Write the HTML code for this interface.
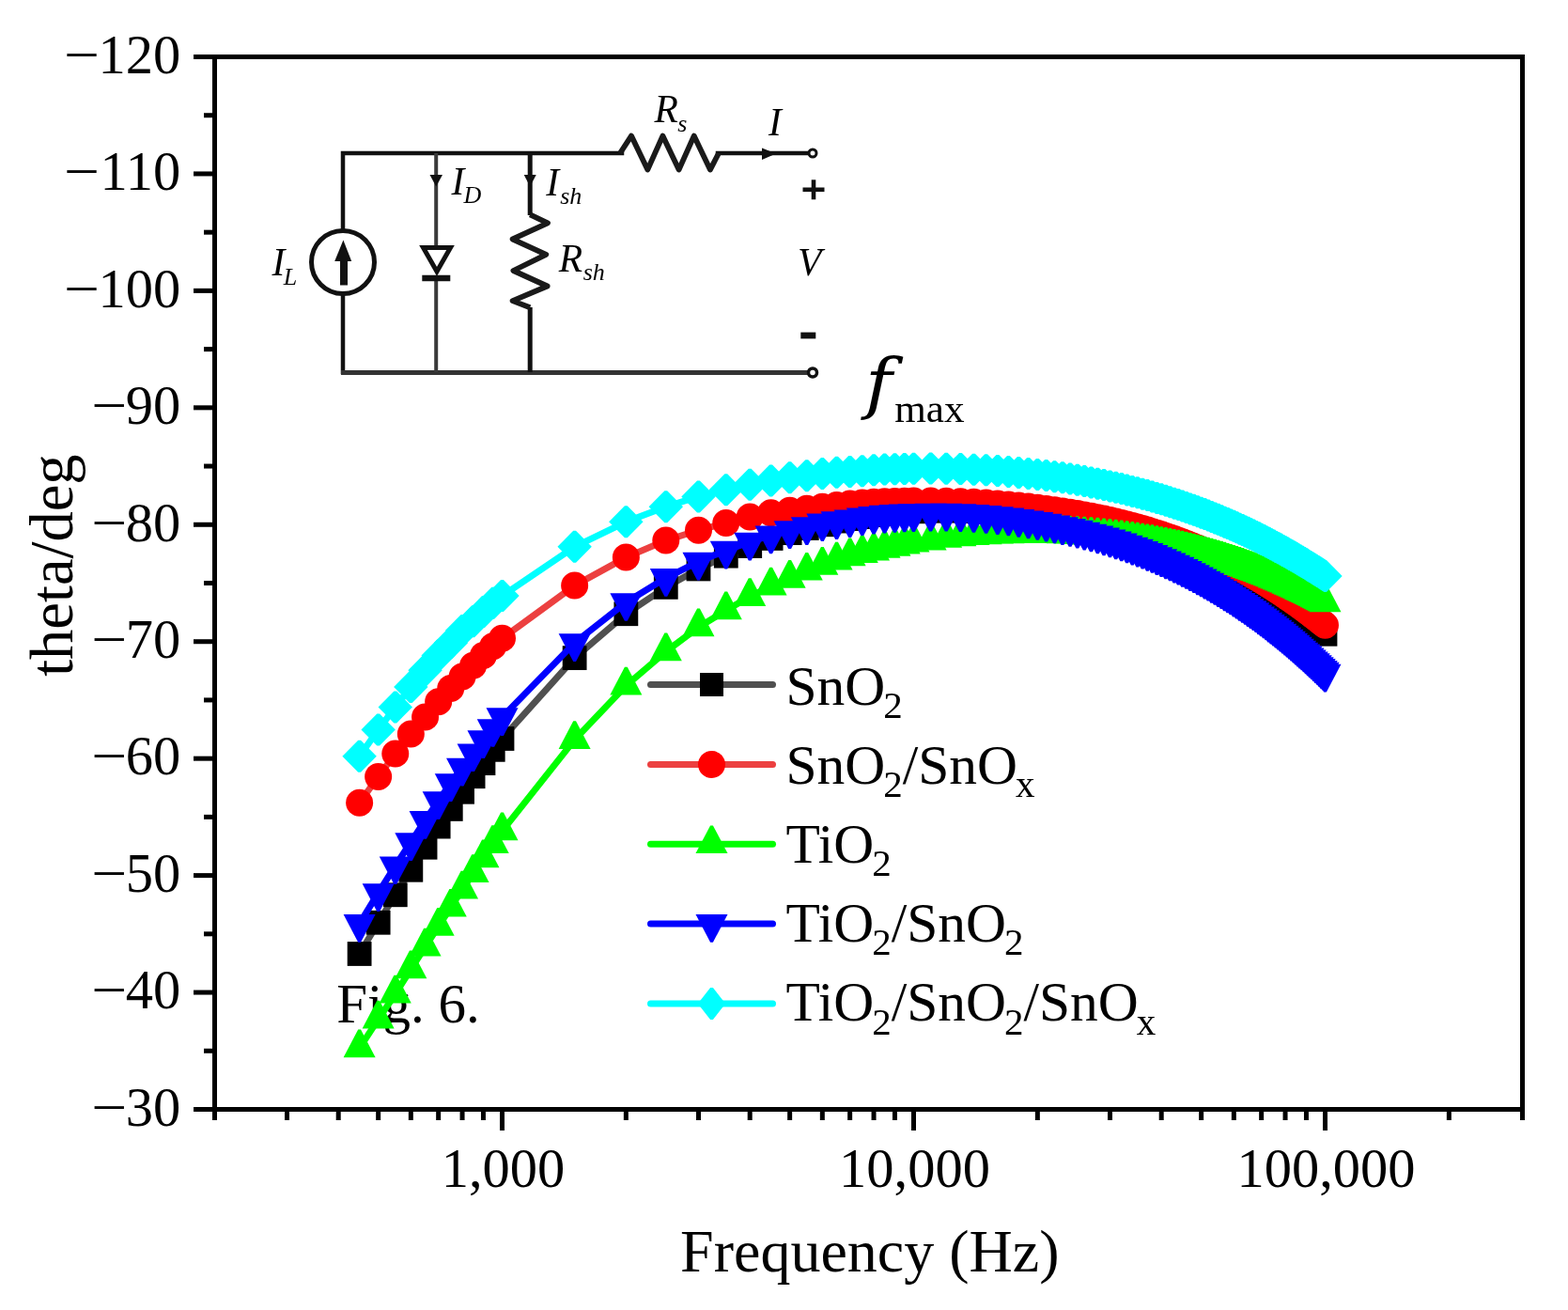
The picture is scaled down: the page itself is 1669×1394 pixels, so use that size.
<!DOCTYPE html><html><head><meta charset="utf-8"><title>theta vs frequency</title><style>html,body{margin:0;padding:0;background:#fff;overflow:hidden;}svg{display:block;}text{font-family:'Liberation Serif','Times New Roman',serif;fill:#000;}</style></head><body>
<svg width="1669" height="1394" viewBox="0 0 1669 1394">
<rect x="0" y="0" width="1669" height="1394" fill="#fff"/>
<g id="circuit"><g stroke="#111" stroke-width="4.5" fill="none" stroke-linecap="square"><polyline points="365,244 365,163 662,163"/><line x1="365" y1="314" x2="365" y2="396"/><line x1="764" y1="163" x2="860" y2="163"/></g><line x1="363" y1="396.5" x2="860" y2="396.5" stroke="#333" stroke-width="5"/><polyline points="660,163 672,144.6 689.3,180.6 705.4,144.6 722.6,180.6 738.7,144.6 755.9,180.6 765,163" stroke="#1a1a1a" stroke-width="5.8" fill="none" stroke-linejoin="round"/><circle cx="365" cy="279" r="33.5" stroke="#111" stroke-width="5" fill="none"/><line x1="366" y1="303.5" x2="366" y2="272" stroke="#111" stroke-width="8"/><polygon points="356.2,278 374.2,278 365.4,255.5" fill="#111"/><line x1="464.2" y1="163" x2="464.2" y2="262" stroke="#3a3a3a" stroke-width="4"/><line x1="464.2" y1="296" x2="464.2" y2="396" stroke="#3a3a3a" stroke-width="4"/><polygon points="450.5,263.5 479.5,263.5 465,289" stroke="#111" stroke-width="5" fill="none" stroke-linejoin="miter"/><line x1="449.3" y1="296" x2="479.3" y2="296" stroke="#111" stroke-width="6.5"/><polygon points="457.5,186 471,186 464.2,198.5" fill="#111"/><line x1="564.2" y1="163" x2="564.2" y2="229" stroke="#111" stroke-width="5"/><line x1="564.2" y1="327" x2="564.2" y2="396" stroke="#111" stroke-width="5"/><polyline points="564.2,228.4 583.0,237.3 545.6,254.5 581.3,270.9 546.4,288 582.6,304.5 545.6,320.1 564.2,327.2" stroke="#1a1a1a" stroke-width="5.8" fill="none" stroke-linejoin="round"/><polygon points="557.7,186 570.7,186 564.2,198.5" fill="#111"/><polygon points="811,157.4 826,163.5 811,170" fill="#111"/><circle cx="865" cy="163" r="4" stroke="#111" stroke-width="3" fill="#fff"/><circle cx="865" cy="396.5" r="4.5" stroke="#111" stroke-width="3.5" fill="#fff"/><rect x="854.5" y="199.5" width="23" height="4.6" fill="#111"/><rect x="863.7" y="191.3" width="4.6" height="21" fill="#111"/><rect x="852.3" y="353.6" width="16" height="6.8" fill="#111"/><text x="289.5" y="292.6" font-size="41.5" style="font-style:italic">I</text><text x="301.8" y="302.9" font-size="26" style="font-style:italic">L</text><text x="480.5" y="206.9" font-size="41.5" style="font-style:italic">I</text><text x="493.6" y="216.2" font-size="26" style="font-style:italic">D</text><text x="581.2" y="207.8" font-size="41.5" style="font-style:italic">I</text><text x="596.2" y="217.2" font-size="26" style="font-style:italic">sh</text><text x="594.8" y="289" font-size="41.5" style="font-style:italic">R</text><text x="620.7" y="298.3" font-size="26" style="font-style:italic">sh</text><text x="696.4" y="129.8" font-size="41.5" style="font-style:italic">R</text><text x="721.2" y="140" font-size="26" style="font-style:italic">s</text><text x="818" y="143.6" font-size="41.5" style="font-style:italic">I</text><text x="849" y="292.7" font-size="41.5" style="font-style:italic">V</text></g>
<text x="920.5" y="431.6" font-size="70.8" style="font-family:'DejaVu Serif',serif;font-style:italic" transform="translate(916.1 0) scale(1.1 1) translate(-916.1 0)">f</text>
<text x="952.2" y="449" font-size="43.2">max</text>
<text x="358.2" y="1087.7" font-size="59">Fig. 6.</text>
<line x1="692.5" y1="728.5" x2="822.5" y2="728.5" stroke="#505050" stroke-width="7" stroke-linecap="round"/>
<rect x="745.00" y="716.00" width="25.0" height="25.0" fill="#000000"/>
<line x1="692.5" y1="813.5" x2="822.5" y2="813.5" stroke="#ec4040" stroke-width="7" stroke-linecap="round"/>
<circle cx="757.50" cy="813.50" r="14.5" fill="#ff0000"/>
<line x1="692.5" y1="898.2" x2="822.5" y2="898.2" stroke="#00ff00" stroke-width="7" stroke-linecap="round"/>
<polygon points="756.10,878.40 758.90,878.40 774.50,908.10 740.50,908.10" fill="#00ff00"/>
<line x1="692.5" y1="983" x2="822.5" y2="983" stroke="#0000ff" stroke-width="7" stroke-linecap="round"/>
<polygon points="756.10,1002.80 758.90,1002.80 774.50,973.10 740.50,973.10" fill="#0000ff"/>
<line x1="692.5" y1="1068" x2="822.5" y2="1068" stroke="#00ffff" stroke-width="7" stroke-linecap="round"/>
<polygon points="756.10,1051.00 758.90,1051.00 772.20,1068.00 758.90,1085.00 756.10,1085.00 742.80,1068.00" fill="#00ffff"/>
<text x="836.4" y="749.5" font-size="59.5"><tspan y="749.5">SnO</tspan><tspan dx="-2" y="763.80" font-size="41">2</tspan></text>
<text x="836.4" y="833.7" font-size="59.5"><tspan y="833.7">SnO</tspan><tspan dx="-2" y="848.00" font-size="41">2</tspan><tspan y="833.7">/SnO</tspan><tspan dx="-2" y="848.00" font-size="41">x</tspan></text>
<text x="836.4" y="917.9" font-size="59.5"><tspan y="917.9">TiO</tspan><tspan dx="-2" y="932.20" font-size="41">2</tspan></text>
<text x="836.4" y="1002.1" font-size="59.5"><tspan y="1002.1">TiO</tspan><tspan dx="-2" y="1016.40" font-size="41">2</tspan><tspan y="1002.1">/SnO</tspan><tspan dx="-2" y="1016.40" font-size="41">2</tspan></text>
<text x="836.4" y="1086.3" font-size="59.5"><tspan y="1086.3">TiO</tspan><tspan dx="-2" y="1100.60" font-size="41">2</tspan><tspan y="1086.3">/SnO</tspan><tspan dx="-2" y="1100.60" font-size="41">2</tspan><tspan y="1086.3">/SnO</tspan><tspan dx="-2" y="1100.60" font-size="41">x</tspan></text>
<polyline points="382.61,1014.99 402.65,981.76 420.78,952.27 437.33,925.76 452.56,901.74 466.65,879.59 479.78,860.93 492.05,842.76 503.59,826.21 514.46,812.14 524.74,797.83 534.50,786.01 611.63,700.14 666.35,653.23 708.80,624.86 743.48,605.44 772.80,591.63 798.20,581.05 820.61,572.96 840.65,567.11 858.78,562.01 875.33,558.28 890.56,554.54 904.65,552.06 917.78,550.06 930.05,548.07 941.59,546.81 952.46,545.83 962.74,545.01 972.50,544.34 990.63,543.65 1007.18,543.34 1022.41,543.54 1036.50,544.02 1049.63,544.70 1061.90,545.55 1073.44,546.53 1084.31,547.61 1094.59,548.76 1104.35,549.98 1113.63,551.25 1122.48,552.58 1130.94,553.94 1139.03,555.34 1146.80,556.78 1154.26,558.24 1161.44,559.73 1168.36,561.24 1175.03,562.77 1181.48,564.31 1187.72,565.88 1193.76,567.45 1199.61,569.04 1205.29,570.64 1210.80,572.25 1216.16,573.86 1221.37,575.48 1226.45,577.11 1231.39,578.74 1236.20,580.37 1240.90,582.01 1245.48,583.65 1249.96,585.30 1254.33,586.94 1258.61,588.58 1262.79,590.23 1266.88,591.87 1270.88,593.52 1274.81,595.16 1278.65,596.81 1282.42,598.45 1286.11,600.09 1289.73,601.73 1293.29,603.36 1296.78,605.00 1300.21,606.63 1303.57,608.25 1306.88,609.88 1310.13,611.50 1313.33,613.12 1316.47,614.74 1319.57,616.35 1322.61,617.96 1325.61,619.57 1328.56,621.17 1331.46,622.77 1334.32,624.37 1337.14,625.96 1339.92,627.55 1342.65,629.13 1345.35,630.71 1348.01,632.29 1350.64,633.86 1353.22,635.43 1355.78,636.99 1358.30,638.55 1360.78,640.11 1363.24,641.66 1365.66,643.21 1368.05,644.75 1370.42,646.29 1372.75,647.82 1375.06,649.36 1377.33,650.88 1379.59,652.41 1381.81,653.93 1384.01,655.44 1386.18,656.95 1388.33,658.46 1390.46,659.96 1392.56,661.46 1394.64,662.95 1396.70,664.44 1398.73,665.93 1400.74,667.41 1402.73,668.89 1404.71,670.36 1406.66,671.83 1408.59,673.30 1410.50,674.76" fill="none" stroke="#505050" stroke-width="7" stroke-linejoin="round" stroke-linecap="round"/>
<g><rect x="369.71" y="1002.09" width="25.8" height="25.8" fill="#000000"/><rect x="389.75" y="968.86" width="25.8" height="25.8" fill="#000000"/><rect x="407.88" y="939.37" width="25.8" height="25.8" fill="#000000"/><rect x="424.43" y="912.86" width="25.8" height="25.8" fill="#000000"/><rect x="439.66" y="888.84" width="25.8" height="25.8" fill="#000000"/><rect x="453.75" y="866.69" width="25.8" height="25.8" fill="#000000"/><rect x="466.88" y="848.03" width="25.8" height="25.8" fill="#000000"/><rect x="479.15" y="829.86" width="25.8" height="25.8" fill="#000000"/><rect x="490.69" y="813.31" width="25.8" height="25.8" fill="#000000"/><rect x="501.56" y="799.24" width="25.8" height="25.8" fill="#000000"/><rect x="511.84" y="784.93" width="25.8" height="25.8" fill="#000000"/><rect x="521.60" y="773.11" width="25.8" height="25.8" fill="#000000"/><rect x="598.73" y="687.24" width="25.8" height="25.8" fill="#000000"/><rect x="653.45" y="640.33" width="25.8" height="25.8" fill="#000000"/><rect x="695.90" y="611.96" width="25.8" height="25.8" fill="#000000"/><rect x="730.58" y="592.54" width="25.8" height="25.8" fill="#000000"/><rect x="759.90" y="578.73" width="25.8" height="25.8" fill="#000000"/><rect x="785.30" y="568.15" width="25.8" height="25.8" fill="#000000"/><rect x="807.71" y="560.06" width="25.8" height="25.8" fill="#000000"/><rect x="827.75" y="554.21" width="25.8" height="25.8" fill="#000000"/><rect x="845.88" y="549.11" width="25.8" height="25.8" fill="#000000"/><rect x="862.43" y="545.38" width="25.8" height="25.8" fill="#000000"/><rect x="877.66" y="541.64" width="25.8" height="25.8" fill="#000000"/><rect x="891.75" y="539.16" width="25.8" height="25.8" fill="#000000"/><rect x="904.88" y="537.16" width="25.8" height="25.8" fill="#000000"/><rect x="917.15" y="535.17" width="25.8" height="25.8" fill="#000000"/><rect x="928.69" y="533.91" width="25.8" height="25.8" fill="#000000"/><rect x="939.56" y="532.93" width="25.8" height="25.8" fill="#000000"/><rect x="949.84" y="532.11" width="25.8" height="25.8" fill="#000000"/><rect x="959.60" y="531.44" width="25.8" height="25.8" fill="#000000"/><rect x="977.73" y="530.75" width="25.8" height="25.8" fill="#000000"/><rect x="994.28" y="530.44" width="25.8" height="25.8" fill="#000000"/><rect x="1009.51" y="530.64" width="25.8" height="25.8" fill="#000000"/><rect x="1023.60" y="531.12" width="25.8" height="25.8" fill="#000000"/><rect x="1036.73" y="531.80" width="25.8" height="25.8" fill="#000000"/><rect x="1049.00" y="532.65" width="25.8" height="25.8" fill="#000000"/><rect x="1060.54" y="533.63" width="25.8" height="25.8" fill="#000000"/><rect x="1071.41" y="534.71" width="25.8" height="25.8" fill="#000000"/><rect x="1081.69" y="535.86" width="25.8" height="25.8" fill="#000000"/><rect x="1091.45" y="537.08" width="25.8" height="25.8" fill="#000000"/><rect x="1100.73" y="538.35" width="25.8" height="25.8" fill="#000000"/><rect x="1109.58" y="539.68" width="25.8" height="25.8" fill="#000000"/><rect x="1118.04" y="541.04" width="25.8" height="25.8" fill="#000000"/><rect x="1126.13" y="542.44" width="25.8" height="25.8" fill="#000000"/><rect x="1133.90" y="543.88" width="25.8" height="25.8" fill="#000000"/><rect x="1141.36" y="545.34" width="25.8" height="25.8" fill="#000000"/><rect x="1148.54" y="546.83" width="25.8" height="25.8" fill="#000000"/><rect x="1155.46" y="548.34" width="25.8" height="25.8" fill="#000000"/><rect x="1162.13" y="549.87" width="25.8" height="25.8" fill="#000000"/><rect x="1168.58" y="551.41" width="25.8" height="25.8" fill="#000000"/><rect x="1174.82" y="552.98" width="25.8" height="25.8" fill="#000000"/><rect x="1180.86" y="554.55" width="25.8" height="25.8" fill="#000000"/><rect x="1186.71" y="556.14" width="25.8" height="25.8" fill="#000000"/><rect x="1192.39" y="557.74" width="25.8" height="25.8" fill="#000000"/><rect x="1197.90" y="559.35" width="25.8" height="25.8" fill="#000000"/><rect x="1203.26" y="560.96" width="25.8" height="25.8" fill="#000000"/><rect x="1208.47" y="562.58" width="25.8" height="25.8" fill="#000000"/><rect x="1213.55" y="564.21" width="25.8" height="25.8" fill="#000000"/><rect x="1218.49" y="565.84" width="25.8" height="25.8" fill="#000000"/><rect x="1223.30" y="567.47" width="25.8" height="25.8" fill="#000000"/><rect x="1228.00" y="569.11" width="25.8" height="25.8" fill="#000000"/><rect x="1232.58" y="570.75" width="25.8" height="25.8" fill="#000000"/><rect x="1237.06" y="572.40" width="25.8" height="25.8" fill="#000000"/><rect x="1241.43" y="574.04" width="25.8" height="25.8" fill="#000000"/><rect x="1245.71" y="575.68" width="25.8" height="25.8" fill="#000000"/><rect x="1249.89" y="577.33" width="25.8" height="25.8" fill="#000000"/><rect x="1253.98" y="578.97" width="25.8" height="25.8" fill="#000000"/><rect x="1257.98" y="580.62" width="25.8" height="25.8" fill="#000000"/><rect x="1261.91" y="582.26" width="25.8" height="25.8" fill="#000000"/><rect x="1265.75" y="583.91" width="25.8" height="25.8" fill="#000000"/><rect x="1269.52" y="585.55" width="25.8" height="25.8" fill="#000000"/><rect x="1273.21" y="587.19" width="25.8" height="25.8" fill="#000000"/><rect x="1276.83" y="588.83" width="25.8" height="25.8" fill="#000000"/><rect x="1280.39" y="590.46" width="25.8" height="25.8" fill="#000000"/><rect x="1283.88" y="592.10" width="25.8" height="25.8" fill="#000000"/><rect x="1287.31" y="593.73" width="25.8" height="25.8" fill="#000000"/><rect x="1290.67" y="595.35" width="25.8" height="25.8" fill="#000000"/><rect x="1293.98" y="596.98" width="25.8" height="25.8" fill="#000000"/><rect x="1297.23" y="598.60" width="25.8" height="25.8" fill="#000000"/><rect x="1300.43" y="600.22" width="25.8" height="25.8" fill="#000000"/><rect x="1303.57" y="601.84" width="25.8" height="25.8" fill="#000000"/><rect x="1306.67" y="603.45" width="25.8" height="25.8" fill="#000000"/><rect x="1309.71" y="605.06" width="25.8" height="25.8" fill="#000000"/><rect x="1312.71" y="606.67" width="25.8" height="25.8" fill="#000000"/><rect x="1315.66" y="608.27" width="25.8" height="25.8" fill="#000000"/><rect x="1318.56" y="609.87" width="25.8" height="25.8" fill="#000000"/><rect x="1321.42" y="611.47" width="25.8" height="25.8" fill="#000000"/><rect x="1324.24" y="613.06" width="25.8" height="25.8" fill="#000000"/><rect x="1327.02" y="614.65" width="25.8" height="25.8" fill="#000000"/><rect x="1329.75" y="616.23" width="25.8" height="25.8" fill="#000000"/><rect x="1332.45" y="617.81" width="25.8" height="25.8" fill="#000000"/><rect x="1335.11" y="619.39" width="25.8" height="25.8" fill="#000000"/><rect x="1337.74" y="620.96" width="25.8" height="25.8" fill="#000000"/><rect x="1340.32" y="622.53" width="25.8" height="25.8" fill="#000000"/><rect x="1342.88" y="624.09" width="25.8" height="25.8" fill="#000000"/><rect x="1345.40" y="625.65" width="25.8" height="25.8" fill="#000000"/><rect x="1347.88" y="627.21" width="25.8" height="25.8" fill="#000000"/><rect x="1350.34" y="628.76" width="25.8" height="25.8" fill="#000000"/><rect x="1352.76" y="630.31" width="25.8" height="25.8" fill="#000000"/><rect x="1355.15" y="631.85" width="25.8" height="25.8" fill="#000000"/><rect x="1357.52" y="633.39" width="25.8" height="25.8" fill="#000000"/><rect x="1359.85" y="634.92" width="25.8" height="25.8" fill="#000000"/><rect x="1362.16" y="636.46" width="25.8" height="25.8" fill="#000000"/><rect x="1364.43" y="637.98" width="25.8" height="25.8" fill="#000000"/><rect x="1366.69" y="639.51" width="25.8" height="25.8" fill="#000000"/><rect x="1368.91" y="641.03" width="25.8" height="25.8" fill="#000000"/><rect x="1371.11" y="642.54" width="25.8" height="25.8" fill="#000000"/><rect x="1373.28" y="644.05" width="25.8" height="25.8" fill="#000000"/><rect x="1375.43" y="645.56" width="25.8" height="25.8" fill="#000000"/><rect x="1377.56" y="647.06" width="25.8" height="25.8" fill="#000000"/><rect x="1379.66" y="648.56" width="25.8" height="25.8" fill="#000000"/><rect x="1381.74" y="650.05" width="25.8" height="25.8" fill="#000000"/><rect x="1383.80" y="651.54" width="25.8" height="25.8" fill="#000000"/><rect x="1385.83" y="653.03" width="25.8" height="25.8" fill="#000000"/><rect x="1387.84" y="654.51" width="25.8" height="25.8" fill="#000000"/><rect x="1389.83" y="655.99" width="25.8" height="25.8" fill="#000000"/><rect x="1391.81" y="657.46" width="25.8" height="25.8" fill="#000000"/><rect x="1393.76" y="658.93" width="25.8" height="25.8" fill="#000000"/><rect x="1395.69" y="660.40" width="25.8" height="25.8" fill="#000000"/><rect x="1397.60" y="661.86" width="25.8" height="25.8" fill="#000000"/></g>
<polyline points="382.61,854.33 402.65,826.46 420.78,802.06 437.33,780.91 452.56,762.99 466.65,746.81 479.78,732.62 492.05,719.93 503.59,708.23 514.46,697.41 524.74,687.70 534.50,679.36 611.63,623.11 666.35,593.12 708.80,575.08 743.48,564.25 772.80,556.41 798.20,549.94 820.61,545.83 840.65,543.34 858.78,541.24 875.33,539.36 890.56,537.51 904.65,536.00 917.78,534.97 930.05,534.26 941.59,533.80 952.46,533.42 962.74,533.16 972.50,533.02 990.63,532.98 1007.18,533.21 1022.41,533.66 1036.50,534.29 1049.63,535.07 1061.90,535.95 1073.44,536.93 1084.31,537.97 1094.59,539.08 1104.35,540.23 1113.63,541.43 1122.48,542.66 1130.94,543.92 1139.03,545.22 1146.80,546.54 1154.26,547.90 1161.44,549.28 1168.36,550.68 1175.03,552.10 1181.48,553.55 1187.72,555.01 1193.76,556.49 1199.61,557.99 1205.29,559.50 1210.80,561.03 1216.16,562.57 1221.37,564.11 1226.45,565.67 1231.39,567.24 1236.20,568.82 1240.90,570.40 1245.48,572.00 1249.96,573.59 1254.33,575.20 1258.61,576.81 1262.79,578.42 1266.88,580.04 1270.88,581.66 1274.81,583.29 1278.65,584.91 1282.42,586.54 1286.11,588.18 1289.73,589.81 1293.29,591.44 1296.78,593.08 1300.21,594.72 1303.57,596.36 1306.88,597.99 1310.13,599.63 1313.33,601.27 1316.47,602.91 1319.57,604.55 1322.61,606.18 1325.61,607.82 1328.56,609.45 1331.46,611.09 1334.32,612.72 1337.14,614.35 1339.92,615.98 1342.65,617.61 1345.35,619.24 1348.01,620.86 1350.64,622.48 1353.22,624.10 1355.78,625.72 1358.30,627.34 1360.78,628.95 1363.24,630.56 1365.66,632.17 1368.05,633.78 1370.42,635.38 1372.75,636.98 1375.06,638.58 1377.33,640.18 1379.59,641.77 1381.81,643.37 1384.01,644.95 1386.18,646.54 1388.33,648.12 1390.46,649.70 1392.56,651.28 1394.64,652.85 1396.70,654.42 1398.73,655.99 1400.74,657.56 1402.73,659.12 1404.71,660.68 1406.66,662.23 1408.59,663.79 1410.50,665.34" fill="none" stroke="#ec4040" stroke-width="7" stroke-linejoin="round" stroke-linecap="round"/>
<g><circle cx="382.61" cy="854.33" r="14.5" fill="#ff0000"/><circle cx="402.65" cy="826.46" r="14.5" fill="#ff0000"/><circle cx="420.78" cy="802.06" r="14.5" fill="#ff0000"/><circle cx="437.33" cy="780.91" r="14.5" fill="#ff0000"/><circle cx="452.56" cy="762.99" r="14.5" fill="#ff0000"/><circle cx="466.65" cy="746.81" r="14.5" fill="#ff0000"/><circle cx="479.78" cy="732.62" r="14.5" fill="#ff0000"/><circle cx="492.05" cy="719.93" r="14.5" fill="#ff0000"/><circle cx="503.59" cy="708.23" r="14.5" fill="#ff0000"/><circle cx="514.46" cy="697.41" r="14.5" fill="#ff0000"/><circle cx="524.74" cy="687.70" r="14.5" fill="#ff0000"/><circle cx="534.50" cy="679.36" r="14.5" fill="#ff0000"/><circle cx="611.63" cy="623.11" r="14.5" fill="#ff0000"/><circle cx="666.35" cy="593.12" r="14.5" fill="#ff0000"/><circle cx="708.80" cy="575.08" r="14.5" fill="#ff0000"/><circle cx="743.48" cy="564.25" r="14.5" fill="#ff0000"/><circle cx="772.80" cy="556.41" r="14.5" fill="#ff0000"/><circle cx="798.20" cy="549.94" r="14.5" fill="#ff0000"/><circle cx="820.61" cy="545.83" r="14.5" fill="#ff0000"/><circle cx="840.65" cy="543.34" r="14.5" fill="#ff0000"/><circle cx="858.78" cy="541.24" r="14.5" fill="#ff0000"/><circle cx="875.33" cy="539.36" r="14.5" fill="#ff0000"/><circle cx="890.56" cy="537.51" r="14.5" fill="#ff0000"/><circle cx="904.65" cy="536.00" r="14.5" fill="#ff0000"/><circle cx="917.78" cy="534.97" r="14.5" fill="#ff0000"/><circle cx="930.05" cy="534.26" r="14.5" fill="#ff0000"/><circle cx="941.59" cy="533.80" r="14.5" fill="#ff0000"/><circle cx="952.46" cy="533.42" r="14.5" fill="#ff0000"/><circle cx="962.74" cy="533.16" r="14.5" fill="#ff0000"/><circle cx="972.50" cy="533.02" r="14.5" fill="#ff0000"/><circle cx="990.63" cy="532.98" r="14.5" fill="#ff0000"/><circle cx="1007.18" cy="533.21" r="14.5" fill="#ff0000"/><circle cx="1022.41" cy="533.66" r="14.5" fill="#ff0000"/><circle cx="1036.50" cy="534.29" r="14.5" fill="#ff0000"/><circle cx="1049.63" cy="535.07" r="14.5" fill="#ff0000"/><circle cx="1061.90" cy="535.95" r="14.5" fill="#ff0000"/><circle cx="1073.44" cy="536.93" r="14.5" fill="#ff0000"/><circle cx="1084.31" cy="537.97" r="14.5" fill="#ff0000"/><circle cx="1094.59" cy="539.08" r="14.5" fill="#ff0000"/><circle cx="1104.35" cy="540.23" r="14.5" fill="#ff0000"/><circle cx="1113.63" cy="541.43" r="14.5" fill="#ff0000"/><circle cx="1122.48" cy="542.66" r="14.5" fill="#ff0000"/><circle cx="1130.94" cy="543.92" r="14.5" fill="#ff0000"/><circle cx="1139.03" cy="545.22" r="14.5" fill="#ff0000"/><circle cx="1146.80" cy="546.54" r="14.5" fill="#ff0000"/><circle cx="1154.26" cy="547.90" r="14.5" fill="#ff0000"/><circle cx="1161.44" cy="549.28" r="14.5" fill="#ff0000"/><circle cx="1168.36" cy="550.68" r="14.5" fill="#ff0000"/><circle cx="1175.03" cy="552.10" r="14.5" fill="#ff0000"/><circle cx="1181.48" cy="553.55" r="14.5" fill="#ff0000"/><circle cx="1187.72" cy="555.01" r="14.5" fill="#ff0000"/><circle cx="1193.76" cy="556.49" r="14.5" fill="#ff0000"/><circle cx="1199.61" cy="557.99" r="14.5" fill="#ff0000"/><circle cx="1205.29" cy="559.50" r="14.5" fill="#ff0000"/><circle cx="1210.80" cy="561.03" r="14.5" fill="#ff0000"/><circle cx="1216.16" cy="562.57" r="14.5" fill="#ff0000"/><circle cx="1221.37" cy="564.11" r="14.5" fill="#ff0000"/><circle cx="1226.45" cy="565.67" r="14.5" fill="#ff0000"/><circle cx="1231.39" cy="567.24" r="14.5" fill="#ff0000"/><circle cx="1236.20" cy="568.82" r="14.5" fill="#ff0000"/><circle cx="1240.90" cy="570.40" r="14.5" fill="#ff0000"/><circle cx="1245.48" cy="572.00" r="14.5" fill="#ff0000"/><circle cx="1249.96" cy="573.59" r="14.5" fill="#ff0000"/><circle cx="1254.33" cy="575.20" r="14.5" fill="#ff0000"/><circle cx="1258.61" cy="576.81" r="14.5" fill="#ff0000"/><circle cx="1262.79" cy="578.42" r="14.5" fill="#ff0000"/><circle cx="1266.88" cy="580.04" r="14.5" fill="#ff0000"/><circle cx="1270.88" cy="581.66" r="14.5" fill="#ff0000"/><circle cx="1274.81" cy="583.29" r="14.5" fill="#ff0000"/><circle cx="1278.65" cy="584.91" r="14.5" fill="#ff0000"/><circle cx="1282.42" cy="586.54" r="14.5" fill="#ff0000"/><circle cx="1286.11" cy="588.18" r="14.5" fill="#ff0000"/><circle cx="1289.73" cy="589.81" r="14.5" fill="#ff0000"/><circle cx="1293.29" cy="591.44" r="14.5" fill="#ff0000"/><circle cx="1296.78" cy="593.08" r="14.5" fill="#ff0000"/><circle cx="1300.21" cy="594.72" r="14.5" fill="#ff0000"/><circle cx="1303.57" cy="596.36" r="14.5" fill="#ff0000"/><circle cx="1306.88" cy="597.99" r="14.5" fill="#ff0000"/><circle cx="1310.13" cy="599.63" r="14.5" fill="#ff0000"/><circle cx="1313.33" cy="601.27" r="14.5" fill="#ff0000"/><circle cx="1316.47" cy="602.91" r="14.5" fill="#ff0000"/><circle cx="1319.57" cy="604.55" r="14.5" fill="#ff0000"/><circle cx="1322.61" cy="606.18" r="14.5" fill="#ff0000"/><circle cx="1325.61" cy="607.82" r="14.5" fill="#ff0000"/><circle cx="1328.56" cy="609.45" r="14.5" fill="#ff0000"/><circle cx="1331.46" cy="611.09" r="14.5" fill="#ff0000"/><circle cx="1334.32" cy="612.72" r="14.5" fill="#ff0000"/><circle cx="1337.14" cy="614.35" r="14.5" fill="#ff0000"/><circle cx="1339.92" cy="615.98" r="14.5" fill="#ff0000"/><circle cx="1342.65" cy="617.61" r="14.5" fill="#ff0000"/><circle cx="1345.35" cy="619.24" r="14.5" fill="#ff0000"/><circle cx="1348.01" cy="620.86" r="14.5" fill="#ff0000"/><circle cx="1350.64" cy="622.48" r="14.5" fill="#ff0000"/><circle cx="1353.22" cy="624.10" r="14.5" fill="#ff0000"/><circle cx="1355.78" cy="625.72" r="14.5" fill="#ff0000"/><circle cx="1358.30" cy="627.34" r="14.5" fill="#ff0000"/><circle cx="1360.78" cy="628.95" r="14.5" fill="#ff0000"/><circle cx="1363.24" cy="630.56" r="14.5" fill="#ff0000"/><circle cx="1365.66" cy="632.17" r="14.5" fill="#ff0000"/><circle cx="1368.05" cy="633.78" r="14.5" fill="#ff0000"/><circle cx="1370.42" cy="635.38" r="14.5" fill="#ff0000"/><circle cx="1372.75" cy="636.98" r="14.5" fill="#ff0000"/><circle cx="1375.06" cy="638.58" r="14.5" fill="#ff0000"/><circle cx="1377.33" cy="640.18" r="14.5" fill="#ff0000"/><circle cx="1379.59" cy="641.77" r="14.5" fill="#ff0000"/><circle cx="1381.81" cy="643.37" r="14.5" fill="#ff0000"/><circle cx="1384.01" cy="644.95" r="14.5" fill="#ff0000"/><circle cx="1386.18" cy="646.54" r="14.5" fill="#ff0000"/><circle cx="1388.33" cy="648.12" r="14.5" fill="#ff0000"/><circle cx="1390.46" cy="649.70" r="14.5" fill="#ff0000"/><circle cx="1392.56" cy="651.28" r="14.5" fill="#ff0000"/><circle cx="1394.64" cy="652.85" r="14.5" fill="#ff0000"/><circle cx="1396.70" cy="654.42" r="14.5" fill="#ff0000"/><circle cx="1398.73" cy="655.99" r="14.5" fill="#ff0000"/><circle cx="1400.74" cy="657.56" r="14.5" fill="#ff0000"/><circle cx="1402.73" cy="659.12" r="14.5" fill="#ff0000"/><circle cx="1404.71" cy="660.68" r="14.5" fill="#ff0000"/><circle cx="1406.66" cy="662.23" r="14.5" fill="#ff0000"/><circle cx="1408.59" cy="663.79" r="14.5" fill="#ff0000"/><circle cx="1410.50" cy="665.34" r="14.5" fill="#ff0000"/></g>
<polyline points="382.61,1115.29 402.65,1084.55 420.78,1057.67 437.33,1031.29 452.56,1007.65 466.65,985.87 479.78,965.71 492.05,946.67 503.59,929.12 514.46,913.32 524.74,898.01 534.50,884.32 611.63,787.13 666.35,729.64 708.80,693.42 743.48,667.42 772.80,649.37 798.20,635.06 820.61,623.61 840.65,615.90 858.78,607.68 875.33,601.83 890.56,596.48 904.65,592.25 917.78,589.14 930.05,586.65 941.59,583.76 952.46,581.75 962.74,579.64 972.50,577.64 990.63,575.53 1007.18,572.92 1022.41,571.36 1036.50,570.20 1049.63,569.34 1061.90,568.72 1073.44,568.29 1084.31,568.02 1094.59,567.88 1104.35,567.86 1113.63,567.95 1122.48,568.12 1130.94,568.38 1139.03,568.72 1146.80,569.12 1154.26,569.58 1161.44,570.09 1168.36,570.66 1175.03,571.26 1181.48,571.91 1187.72,572.59 1193.76,573.31 1199.61,574.05 1205.29,574.83 1210.80,575.63 1216.16,576.45 1221.37,577.29 1226.45,578.15 1231.39,579.03 1236.20,579.93 1240.90,580.84 1245.48,581.76 1249.96,582.70 1254.33,583.64 1258.61,584.60 1262.79,585.57 1266.88,586.55 1270.88,587.53 1274.81,588.52 1278.65,589.52 1282.42,590.52 1286.11,591.53 1289.73,592.55 1293.29,593.57 1296.78,594.59 1300.21,595.62 1303.57,596.65 1306.88,597.69 1310.13,598.72 1313.33,599.76 1316.47,600.80 1319.57,601.85 1322.61,602.89 1325.61,603.94 1328.56,604.98 1331.46,606.03 1334.32,607.08 1337.14,608.13 1339.92,609.18 1342.65,610.23 1345.35,611.28 1348.01,612.33 1350.64,613.38 1353.22,614.43 1355.78,615.48 1358.30,616.53 1360.78,617.57 1363.24,618.62 1365.66,619.67 1368.05,620.71 1370.42,621.76 1372.75,622.80 1375.06,623.84 1377.33,624.88 1379.59,625.92 1381.81,626.96 1384.01,627.99 1386.18,629.03 1388.33,630.06 1390.46,631.10 1392.56,632.13 1394.64,633.16 1396.70,634.18 1398.73,635.21 1400.74,636.23 1402.73,637.25 1404.71,638.28 1406.66,639.29 1408.59,640.31 1410.50,641.33" fill="none" stroke="#00ff00" stroke-width="7" stroke-linejoin="round" stroke-linecap="round"/>
<g><polygon points="381.21,1095.49 384.01,1095.49 399.61,1125.19 365.61,1125.19" fill="#00ff00"/><polygon points="401.25,1064.75 404.05,1064.75 419.65,1094.45 385.65,1094.45" fill="#00ff00"/><polygon points="419.38,1037.87 422.18,1037.87 437.78,1067.57 403.78,1067.57" fill="#00ff00"/><polygon points="435.93,1011.49 438.73,1011.49 454.33,1041.19 420.33,1041.19" fill="#00ff00"/><polygon points="451.16,987.85 453.96,987.85 469.56,1017.55 435.56,1017.55" fill="#00ff00"/><polygon points="465.25,966.07 468.05,966.07 483.65,995.77 449.65,995.77" fill="#00ff00"/><polygon points="478.38,945.91 481.18,945.91 496.78,975.61 462.78,975.61" fill="#00ff00"/><polygon points="490.65,926.87 493.45,926.87 509.05,956.57 475.05,956.57" fill="#00ff00"/><polygon points="502.19,909.32 504.99,909.32 520.59,939.02 486.59,939.02" fill="#00ff00"/><polygon points="513.06,893.52 515.86,893.52 531.46,923.22 497.46,923.22" fill="#00ff00"/><polygon points="523.34,878.21 526.14,878.21 541.74,907.91 507.74,907.91" fill="#00ff00"/><polygon points="533.10,864.52 535.90,864.52 551.50,894.22 517.50,894.22" fill="#00ff00"/><polygon points="610.23,767.33 613.03,767.33 628.63,797.03 594.63,797.03" fill="#00ff00"/><polygon points="664.95,709.84 667.75,709.84 683.35,739.54 649.35,739.54" fill="#00ff00"/><polygon points="707.40,673.62 710.20,673.62 725.80,703.32 691.80,703.32" fill="#00ff00"/><polygon points="742.08,647.62 744.88,647.62 760.48,677.32 726.48,677.32" fill="#00ff00"/><polygon points="771.40,629.57 774.20,629.57 789.80,659.27 755.80,659.27" fill="#00ff00"/><polygon points="796.80,615.26 799.60,615.26 815.20,644.96 781.20,644.96" fill="#00ff00"/><polygon points="819.21,603.81 822.01,603.81 837.61,633.51 803.61,633.51" fill="#00ff00"/><polygon points="839.25,596.10 842.05,596.10 857.65,625.80 823.65,625.80" fill="#00ff00"/><polygon points="857.38,587.88 860.18,587.88 875.78,617.58 841.78,617.58" fill="#00ff00"/><polygon points="873.93,582.03 876.73,582.03 892.33,611.73 858.33,611.73" fill="#00ff00"/><polygon points="889.16,576.68 891.96,576.68 907.56,606.38 873.56,606.38" fill="#00ff00"/><polygon points="903.25,572.45 906.05,572.45 921.65,602.15 887.65,602.15" fill="#00ff00"/><polygon points="916.38,569.34 919.18,569.34 934.78,599.04 900.78,599.04" fill="#00ff00"/><polygon points="928.65,566.85 931.45,566.85 947.05,596.55 913.05,596.55" fill="#00ff00"/><polygon points="940.19,563.96 942.99,563.96 958.59,593.66 924.59,593.66" fill="#00ff00"/><polygon points="951.06,561.95 953.86,561.95 969.46,591.65 935.46,591.65" fill="#00ff00"/><polygon points="961.34,559.84 964.14,559.84 979.74,589.54 945.74,589.54" fill="#00ff00"/><polygon points="971.10,557.84 973.90,557.84 989.50,587.54 955.50,587.54" fill="#00ff00"/><polygon points="989.23,555.73 992.03,555.73 1007.63,585.43 973.63,585.43" fill="#00ff00"/><polygon points="1005.78,553.12 1008.58,553.12 1024.18,582.82 990.18,582.82" fill="#00ff00"/><polygon points="1021.01,551.56 1023.81,551.56 1039.41,581.26 1005.41,581.26" fill="#00ff00"/><polygon points="1035.10,550.40 1037.90,550.40 1053.50,580.10 1019.50,580.10" fill="#00ff00"/><polygon points="1048.23,549.54 1051.03,549.54 1066.63,579.24 1032.63,579.24" fill="#00ff00"/><polygon points="1060.50,548.92 1063.30,548.92 1078.90,578.62 1044.90,578.62" fill="#00ff00"/><polygon points="1072.04,548.49 1074.84,548.49 1090.44,578.19 1056.44,578.19" fill="#00ff00"/><polygon points="1082.91,548.22 1085.71,548.22 1101.31,577.92 1067.31,577.92" fill="#00ff00"/><polygon points="1093.19,548.08 1095.99,548.08 1111.59,577.78 1077.59,577.78" fill="#00ff00"/><polygon points="1102.95,548.06 1105.75,548.06 1121.35,577.76 1087.35,577.76" fill="#00ff00"/><polygon points="1112.23,548.15 1115.03,548.15 1130.63,577.85 1096.63,577.85" fill="#00ff00"/><polygon points="1121.08,548.32 1123.88,548.32 1139.48,578.02 1105.48,578.02" fill="#00ff00"/><polygon points="1129.54,548.58 1132.34,548.58 1147.94,578.28 1113.94,578.28" fill="#00ff00"/><polygon points="1137.63,548.92 1140.43,548.92 1156.03,578.62 1122.03,578.62" fill="#00ff00"/><polygon points="1145.40,549.32 1148.20,549.32 1163.80,579.02 1129.80,579.02" fill="#00ff00"/><polygon points="1152.86,549.78 1155.66,549.78 1171.26,579.48 1137.26,579.48" fill="#00ff00"/><polygon points="1160.04,550.29 1162.84,550.29 1178.44,579.99 1144.44,579.99" fill="#00ff00"/><polygon points="1166.96,550.86 1169.76,550.86 1185.36,580.56 1151.36,580.56" fill="#00ff00"/><polygon points="1173.63,551.46 1176.43,551.46 1192.03,581.16 1158.03,581.16" fill="#00ff00"/><polygon points="1180.08,552.11 1182.88,552.11 1198.48,581.81 1164.48,581.81" fill="#00ff00"/><polygon points="1186.32,552.79 1189.12,552.79 1204.72,582.49 1170.72,582.49" fill="#00ff00"/><polygon points="1192.36,553.51 1195.16,553.51 1210.76,583.21 1176.76,583.21" fill="#00ff00"/><polygon points="1198.21,554.25 1201.01,554.25 1216.61,583.95 1182.61,583.95" fill="#00ff00"/><polygon points="1203.89,555.03 1206.69,555.03 1222.29,584.73 1188.29,584.73" fill="#00ff00"/><polygon points="1209.40,555.83 1212.20,555.83 1227.80,585.53 1193.80,585.53" fill="#00ff00"/><polygon points="1214.76,556.65 1217.56,556.65 1233.16,586.35 1199.16,586.35" fill="#00ff00"/><polygon points="1219.97,557.49 1222.77,557.49 1238.37,587.19 1204.37,587.19" fill="#00ff00"/><polygon points="1225.05,558.35 1227.85,558.35 1243.45,588.05 1209.45,588.05" fill="#00ff00"/><polygon points="1229.99,559.23 1232.79,559.23 1248.39,588.93 1214.39,588.93" fill="#00ff00"/><polygon points="1234.80,560.13 1237.60,560.13 1253.20,589.83 1219.20,589.83" fill="#00ff00"/><polygon points="1239.50,561.04 1242.30,561.04 1257.90,590.74 1223.90,590.74" fill="#00ff00"/><polygon points="1244.08,561.96 1246.88,561.96 1262.48,591.66 1228.48,591.66" fill="#00ff00"/><polygon points="1248.56,562.90 1251.36,562.90 1266.96,592.60 1232.96,592.60" fill="#00ff00"/><polygon points="1252.93,563.84 1255.73,563.84 1271.33,593.54 1237.33,593.54" fill="#00ff00"/><polygon points="1257.21,564.80 1260.01,564.80 1275.61,594.50 1241.61,594.50" fill="#00ff00"/><polygon points="1261.39,565.77 1264.19,565.77 1279.79,595.47 1245.79,595.47" fill="#00ff00"/><polygon points="1265.48,566.75 1268.28,566.75 1283.88,596.45 1249.88,596.45" fill="#00ff00"/><polygon points="1269.48,567.73 1272.28,567.73 1287.88,597.43 1253.88,597.43" fill="#00ff00"/><polygon points="1273.41,568.72 1276.21,568.72 1291.81,598.42 1257.81,598.42" fill="#00ff00"/><polygon points="1277.25,569.72 1280.05,569.72 1295.65,599.42 1261.65,599.42" fill="#00ff00"/><polygon points="1281.02,570.72 1283.82,570.72 1299.42,600.42 1265.42,600.42" fill="#00ff00"/><polygon points="1284.71,571.73 1287.51,571.73 1303.11,601.43 1269.11,601.43" fill="#00ff00"/><polygon points="1288.33,572.75 1291.13,572.75 1306.73,602.45 1272.73,602.45" fill="#00ff00"/><polygon points="1291.89,573.77 1294.69,573.77 1310.29,603.47 1276.29,603.47" fill="#00ff00"/><polygon points="1295.38,574.79 1298.18,574.79 1313.78,604.49 1279.78,604.49" fill="#00ff00"/><polygon points="1298.81,575.82 1301.61,575.82 1317.21,605.52 1283.21,605.52" fill="#00ff00"/><polygon points="1302.17,576.85 1304.97,576.85 1320.57,606.55 1286.57,606.55" fill="#00ff00"/><polygon points="1305.48,577.89 1308.28,577.89 1323.88,607.59 1289.88,607.59" fill="#00ff00"/><polygon points="1308.73,578.92 1311.53,578.92 1327.13,608.62 1293.13,608.62" fill="#00ff00"/><polygon points="1311.93,579.96 1314.73,579.96 1330.33,609.66 1296.33,609.66" fill="#00ff00"/><polygon points="1315.07,581.00 1317.87,581.00 1333.47,610.70 1299.47,610.70" fill="#00ff00"/><polygon points="1318.17,582.05 1320.97,582.05 1336.57,611.75 1302.57,611.75" fill="#00ff00"/><polygon points="1321.21,583.09 1324.01,583.09 1339.61,612.79 1305.61,612.79" fill="#00ff00"/><polygon points="1324.21,584.14 1327.01,584.14 1342.61,613.84 1308.61,613.84" fill="#00ff00"/><polygon points="1327.16,585.18 1329.96,585.18 1345.56,614.88 1311.56,614.88" fill="#00ff00"/><polygon points="1330.06,586.23 1332.86,586.23 1348.46,615.93 1314.46,615.93" fill="#00ff00"/><polygon points="1332.92,587.28 1335.72,587.28 1351.32,616.98 1317.32,616.98" fill="#00ff00"/><polygon points="1335.74,588.33 1338.54,588.33 1354.14,618.03 1320.14,618.03" fill="#00ff00"/><polygon points="1338.52,589.38 1341.32,589.38 1356.92,619.08 1322.92,619.08" fill="#00ff00"/><polygon points="1341.25,590.43 1344.05,590.43 1359.65,620.13 1325.65,620.13" fill="#00ff00"/><polygon points="1343.95,591.48 1346.75,591.48 1362.35,621.18 1328.35,621.18" fill="#00ff00"/><polygon points="1346.61,592.53 1349.41,592.53 1365.01,622.23 1331.01,622.23" fill="#00ff00"/><polygon points="1349.24,593.58 1352.04,593.58 1367.64,623.28 1333.64,623.28" fill="#00ff00"/><polygon points="1351.82,594.63 1354.62,594.63 1370.22,624.33 1336.22,624.33" fill="#00ff00"/><polygon points="1354.38,595.68 1357.18,595.68 1372.78,625.38 1338.78,625.38" fill="#00ff00"/><polygon points="1356.90,596.73 1359.70,596.73 1375.30,626.43 1341.30,626.43" fill="#00ff00"/><polygon points="1359.38,597.77 1362.18,597.77 1377.78,627.47 1343.78,627.47" fill="#00ff00"/><polygon points="1361.84,598.82 1364.64,598.82 1380.24,628.52 1346.24,628.52" fill="#00ff00"/><polygon points="1364.26,599.87 1367.06,599.87 1382.66,629.57 1348.66,629.57" fill="#00ff00"/><polygon points="1366.65,600.91 1369.45,600.91 1385.05,630.61 1351.05,630.61" fill="#00ff00"/><polygon points="1369.02,601.96 1371.82,601.96 1387.42,631.66 1353.42,631.66" fill="#00ff00"/><polygon points="1371.35,603.00 1374.15,603.00 1389.75,632.70 1355.75,632.70" fill="#00ff00"/><polygon points="1373.66,604.04 1376.46,604.04 1392.06,633.74 1358.06,633.74" fill="#00ff00"/><polygon points="1375.93,605.08 1378.73,605.08 1394.33,634.78 1360.33,634.78" fill="#00ff00"/><polygon points="1378.19,606.12 1380.99,606.12 1396.59,635.82 1362.59,635.82" fill="#00ff00"/><polygon points="1380.41,607.16 1383.21,607.16 1398.81,636.86 1364.81,636.86" fill="#00ff00"/><polygon points="1382.61,608.19 1385.41,608.19 1401.01,637.89 1367.01,637.89" fill="#00ff00"/><polygon points="1384.78,609.23 1387.58,609.23 1403.18,638.93 1369.18,638.93" fill="#00ff00"/><polygon points="1386.93,610.26 1389.73,610.26 1405.33,639.96 1371.33,639.96" fill="#00ff00"/><polygon points="1389.06,611.30 1391.86,611.30 1407.46,641.00 1373.46,641.00" fill="#00ff00"/><polygon points="1391.16,612.33 1393.96,612.33 1409.56,642.03 1375.56,642.03" fill="#00ff00"/><polygon points="1393.24,613.36 1396.04,613.36 1411.64,643.06 1377.64,643.06" fill="#00ff00"/><polygon points="1395.30,614.38 1398.10,614.38 1413.70,644.08 1379.70,644.08" fill="#00ff00"/><polygon points="1397.33,615.41 1400.13,615.41 1415.73,645.11 1381.73,645.11" fill="#00ff00"/><polygon points="1399.34,616.43 1402.14,616.43 1417.74,646.13 1383.74,646.13" fill="#00ff00"/><polygon points="1401.33,617.45 1404.13,617.45 1419.73,647.15 1385.73,647.15" fill="#00ff00"/><polygon points="1403.31,618.48 1406.11,618.48 1421.71,648.18 1387.71,648.18" fill="#00ff00"/><polygon points="1405.26,619.49 1408.06,619.49 1423.66,649.19 1389.66,649.19" fill="#00ff00"/><polygon points="1407.19,620.51 1409.99,620.51 1425.59,650.21 1391.59,650.21" fill="#00ff00"/><polygon points="1409.10,621.53 1411.90,621.53 1427.50,651.23 1393.50,651.23" fill="#00ff00"/></g>
<polyline points="382.61,982.88 402.65,950.15 420.78,921.28 437.33,896.27 452.56,873.00 466.65,852.09 479.78,833.18 492.05,816.62 503.59,801.32 514.46,787.26 524.74,775.06 534.50,763.11 611.63,684.09 666.35,641.03 708.80,615.02 743.48,597.73 772.80,585.66 798.20,576.70 820.61,569.35 840.65,564.25 858.78,560.14 875.33,556.29 890.56,554.17 904.65,552.30 917.78,550.31 930.05,548.82 941.59,547.59 952.46,546.93 962.74,546.45 972.50,546.09 990.63,545.72 1007.18,545.69 1022.41,546.19 1036.50,546.98 1049.63,547.99 1061.90,549.16 1073.44,550.48 1084.31,551.90 1094.59,553.41 1104.35,554.99 1113.63,556.64 1122.48,558.35 1130.94,560.11 1139.03,561.91 1146.80,563.76 1154.26,565.64 1161.44,567.56 1168.36,569.51 1175.03,571.48 1181.48,573.47 1187.72,575.49 1193.76,577.52 1199.61,579.57 1205.29,581.63 1210.80,583.70 1216.16,585.79 1221.37,587.88 1226.45,589.99 1231.39,592.09 1236.20,594.21 1240.90,596.33 1245.48,598.45 1249.96,600.58 1254.33,602.71 1258.61,604.83 1262.79,606.97 1266.88,609.10 1270.88,611.23 1274.81,613.36 1278.65,615.49 1282.42,617.62 1286.11,619.74 1289.73,621.87 1293.29,623.99 1296.78,626.11 1300.21,628.22 1303.57,630.34 1306.88,632.45 1310.13,634.55 1313.33,636.65 1316.47,638.75 1319.57,640.85 1322.61,642.94 1325.61,645.02 1328.56,647.10 1331.46,649.18 1334.32,651.25 1337.14,653.32 1339.92,655.38 1342.65,657.44 1345.35,659.49 1348.01,661.53 1350.64,663.58 1353.22,665.61 1355.78,667.64 1358.30,669.67 1360.78,671.69 1363.24,673.70 1365.66,675.71 1368.05,677.72 1370.42,679.72 1372.75,681.71 1375.06,683.70 1377.33,685.68 1379.59,687.66 1381.81,689.63 1384.01,691.60 1386.18,693.56 1388.33,695.51 1390.46,697.46 1392.56,699.41 1394.64,701.35 1396.70,703.28 1398.73,705.21 1400.74,707.13 1402.73,709.05 1404.71,710.96 1406.66,712.87 1408.59,714.77 1410.50,716.66" fill="none" stroke="#0000ff" stroke-width="7" stroke-linejoin="round" stroke-linecap="round"/>
<g><polygon points="381.21,1002.68 384.01,1002.68 399.61,972.98 365.61,972.98" fill="#0000ff"/><polygon points="401.25,969.95 404.05,969.95 419.65,940.25 385.65,940.25" fill="#0000ff"/><polygon points="419.38,941.08 422.18,941.08 437.78,911.38 403.78,911.38" fill="#0000ff"/><polygon points="435.93,916.07 438.73,916.07 454.33,886.37 420.33,886.37" fill="#0000ff"/><polygon points="451.16,892.80 453.96,892.80 469.56,863.10 435.56,863.10" fill="#0000ff"/><polygon points="465.25,871.89 468.05,871.89 483.65,842.19 449.65,842.19" fill="#0000ff"/><polygon points="478.38,852.98 481.18,852.98 496.78,823.28 462.78,823.28" fill="#0000ff"/><polygon points="490.65,836.42 493.45,836.42 509.05,806.72 475.05,806.72" fill="#0000ff"/><polygon points="502.19,821.12 504.99,821.12 520.59,791.42 486.59,791.42" fill="#0000ff"/><polygon points="513.06,807.06 515.86,807.06 531.46,777.36 497.46,777.36" fill="#0000ff"/><polygon points="523.34,794.86 526.14,794.86 541.74,765.16 507.74,765.16" fill="#0000ff"/><polygon points="533.10,782.91 535.90,782.91 551.50,753.21 517.50,753.21" fill="#0000ff"/><polygon points="610.23,703.89 613.03,703.89 628.63,674.19 594.63,674.19" fill="#0000ff"/><polygon points="664.95,660.83 667.75,660.83 683.35,631.13 649.35,631.13" fill="#0000ff"/><polygon points="707.40,634.82 710.20,634.82 725.80,605.12 691.80,605.12" fill="#0000ff"/><polygon points="742.08,617.53 744.88,617.53 760.48,587.83 726.48,587.83" fill="#0000ff"/><polygon points="771.40,605.46 774.20,605.46 789.80,575.76 755.80,575.76" fill="#0000ff"/><polygon points="796.80,596.50 799.60,596.50 815.20,566.80 781.20,566.80" fill="#0000ff"/><polygon points="819.21,589.15 822.01,589.15 837.61,559.45 803.61,559.45" fill="#0000ff"/><polygon points="839.25,584.05 842.05,584.05 857.65,554.35 823.65,554.35" fill="#0000ff"/><polygon points="857.38,579.94 860.18,579.94 875.78,550.24 841.78,550.24" fill="#0000ff"/><polygon points="873.93,576.09 876.73,576.09 892.33,546.39 858.33,546.39" fill="#0000ff"/><polygon points="889.16,573.97 891.96,573.97 907.56,544.27 873.56,544.27" fill="#0000ff"/><polygon points="903.25,572.10 906.05,572.10 921.65,542.40 887.65,542.40" fill="#0000ff"/><polygon points="916.38,570.11 919.18,570.11 934.78,540.41 900.78,540.41" fill="#0000ff"/><polygon points="928.65,568.62 931.45,568.62 947.05,538.92 913.05,538.92" fill="#0000ff"/><polygon points="940.19,567.39 942.99,567.39 958.59,537.69 924.59,537.69" fill="#0000ff"/><polygon points="951.06,566.73 953.86,566.73 969.46,537.03 935.46,537.03" fill="#0000ff"/><polygon points="961.34,566.25 964.14,566.25 979.74,536.55 945.74,536.55" fill="#0000ff"/><polygon points="971.10,565.89 973.90,565.89 989.50,536.19 955.50,536.19" fill="#0000ff"/><polygon points="989.23,565.52 992.03,565.52 1007.63,535.82 973.63,535.82" fill="#0000ff"/><polygon points="1005.78,565.49 1008.58,565.49 1024.18,535.79 990.18,535.79" fill="#0000ff"/><polygon points="1021.01,565.99 1023.81,565.99 1039.41,536.29 1005.41,536.29" fill="#0000ff"/><polygon points="1035.10,566.78 1037.90,566.78 1053.50,537.08 1019.50,537.08" fill="#0000ff"/><polygon points="1048.23,567.79 1051.03,567.79 1066.63,538.09 1032.63,538.09" fill="#0000ff"/><polygon points="1060.50,568.96 1063.30,568.96 1078.90,539.26 1044.90,539.26" fill="#0000ff"/><polygon points="1072.04,570.28 1074.84,570.28 1090.44,540.58 1056.44,540.58" fill="#0000ff"/><polygon points="1082.91,571.70 1085.71,571.70 1101.31,542.00 1067.31,542.00" fill="#0000ff"/><polygon points="1093.19,573.21 1095.99,573.21 1111.59,543.51 1077.59,543.51" fill="#0000ff"/><polygon points="1102.95,574.79 1105.75,574.79 1121.35,545.09 1087.35,545.09" fill="#0000ff"/><polygon points="1112.23,576.44 1115.03,576.44 1130.63,546.74 1096.63,546.74" fill="#0000ff"/><polygon points="1121.08,578.15 1123.88,578.15 1139.48,548.45 1105.48,548.45" fill="#0000ff"/><polygon points="1129.54,579.91 1132.34,579.91 1147.94,550.21 1113.94,550.21" fill="#0000ff"/><polygon points="1137.63,581.71 1140.43,581.71 1156.03,552.01 1122.03,552.01" fill="#0000ff"/><polygon points="1145.40,583.56 1148.20,583.56 1163.80,553.86 1129.80,553.86" fill="#0000ff"/><polygon points="1152.86,585.44 1155.66,585.44 1171.26,555.74 1137.26,555.74" fill="#0000ff"/><polygon points="1160.04,587.36 1162.84,587.36 1178.44,557.66 1144.44,557.66" fill="#0000ff"/><polygon points="1166.96,589.31 1169.76,589.31 1185.36,559.61 1151.36,559.61" fill="#0000ff"/><polygon points="1173.63,591.28 1176.43,591.28 1192.03,561.58 1158.03,561.58" fill="#0000ff"/><polygon points="1180.08,593.27 1182.88,593.27 1198.48,563.57 1164.48,563.57" fill="#0000ff"/><polygon points="1186.32,595.29 1189.12,595.29 1204.72,565.59 1170.72,565.59" fill="#0000ff"/><polygon points="1192.36,597.32 1195.16,597.32 1210.76,567.62 1176.76,567.62" fill="#0000ff"/><polygon points="1198.21,599.37 1201.01,599.37 1216.61,569.67 1182.61,569.67" fill="#0000ff"/><polygon points="1203.89,601.43 1206.69,601.43 1222.29,571.73 1188.29,571.73" fill="#0000ff"/><polygon points="1209.40,603.50 1212.20,603.50 1227.80,573.80 1193.80,573.80" fill="#0000ff"/><polygon points="1214.76,605.59 1217.56,605.59 1233.16,575.89 1199.16,575.89" fill="#0000ff"/><polygon points="1219.97,607.68 1222.77,607.68 1238.37,577.98 1204.37,577.98" fill="#0000ff"/><polygon points="1225.05,609.79 1227.85,609.79 1243.45,580.09 1209.45,580.09" fill="#0000ff"/><polygon points="1229.99,611.89 1232.79,611.89 1248.39,582.19 1214.39,582.19" fill="#0000ff"/><polygon points="1234.80,614.01 1237.60,614.01 1253.20,584.31 1219.20,584.31" fill="#0000ff"/><polygon points="1239.50,616.13 1242.30,616.13 1257.90,586.43 1223.90,586.43" fill="#0000ff"/><polygon points="1244.08,618.25 1246.88,618.25 1262.48,588.55 1228.48,588.55" fill="#0000ff"/><polygon points="1248.56,620.38 1251.36,620.38 1266.96,590.68 1232.96,590.68" fill="#0000ff"/><polygon points="1252.93,622.51 1255.73,622.51 1271.33,592.81 1237.33,592.81" fill="#0000ff"/><polygon points="1257.21,624.63 1260.01,624.63 1275.61,594.93 1241.61,594.93" fill="#0000ff"/><polygon points="1261.39,626.77 1264.19,626.77 1279.79,597.07 1245.79,597.07" fill="#0000ff"/><polygon points="1265.48,628.90 1268.28,628.90 1283.88,599.20 1249.88,599.20" fill="#0000ff"/><polygon points="1269.48,631.03 1272.28,631.03 1287.88,601.33 1253.88,601.33" fill="#0000ff"/><polygon points="1273.41,633.16 1276.21,633.16 1291.81,603.46 1257.81,603.46" fill="#0000ff"/><polygon points="1277.25,635.29 1280.05,635.29 1295.65,605.59 1261.65,605.59" fill="#0000ff"/><polygon points="1281.02,637.42 1283.82,637.42 1299.42,607.72 1265.42,607.72" fill="#0000ff"/><polygon points="1284.71,639.54 1287.51,639.54 1303.11,609.84 1269.11,609.84" fill="#0000ff"/><polygon points="1288.33,641.67 1291.13,641.67 1306.73,611.97 1272.73,611.97" fill="#0000ff"/><polygon points="1291.89,643.79 1294.69,643.79 1310.29,614.09 1276.29,614.09" fill="#0000ff"/><polygon points="1295.38,645.91 1298.18,645.91 1313.78,616.21 1279.78,616.21" fill="#0000ff"/><polygon points="1298.81,648.02 1301.61,648.02 1317.21,618.32 1283.21,618.32" fill="#0000ff"/><polygon points="1302.17,650.14 1304.97,650.14 1320.57,620.44 1286.57,620.44" fill="#0000ff"/><polygon points="1305.48,652.25 1308.28,652.25 1323.88,622.55 1289.88,622.55" fill="#0000ff"/><polygon points="1308.73,654.35 1311.53,654.35 1327.13,624.65 1293.13,624.65" fill="#0000ff"/><polygon points="1311.93,656.45 1314.73,656.45 1330.33,626.75 1296.33,626.75" fill="#0000ff"/><polygon points="1315.07,658.55 1317.87,658.55 1333.47,628.85 1299.47,628.85" fill="#0000ff"/><polygon points="1318.17,660.65 1320.97,660.65 1336.57,630.95 1302.57,630.95" fill="#0000ff"/><polygon points="1321.21,662.74 1324.01,662.74 1339.61,633.04 1305.61,633.04" fill="#0000ff"/><polygon points="1324.21,664.82 1327.01,664.82 1342.61,635.12 1308.61,635.12" fill="#0000ff"/><polygon points="1327.16,666.90 1329.96,666.90 1345.56,637.20 1311.56,637.20" fill="#0000ff"/><polygon points="1330.06,668.98 1332.86,668.98 1348.46,639.28 1314.46,639.28" fill="#0000ff"/><polygon points="1332.92,671.05 1335.72,671.05 1351.32,641.35 1317.32,641.35" fill="#0000ff"/><polygon points="1335.74,673.12 1338.54,673.12 1354.14,643.42 1320.14,643.42" fill="#0000ff"/><polygon points="1338.52,675.18 1341.32,675.18 1356.92,645.48 1322.92,645.48" fill="#0000ff"/><polygon points="1341.25,677.24 1344.05,677.24 1359.65,647.54 1325.65,647.54" fill="#0000ff"/><polygon points="1343.95,679.29 1346.75,679.29 1362.35,649.59 1328.35,649.59" fill="#0000ff"/><polygon points="1346.61,681.33 1349.41,681.33 1365.01,651.63 1331.01,651.63" fill="#0000ff"/><polygon points="1349.24,683.38 1352.04,683.38 1367.64,653.68 1333.64,653.68" fill="#0000ff"/><polygon points="1351.82,685.41 1354.62,685.41 1370.22,655.71 1336.22,655.71" fill="#0000ff"/><polygon points="1354.38,687.44 1357.18,687.44 1372.78,657.74 1338.78,657.74" fill="#0000ff"/><polygon points="1356.90,689.47 1359.70,689.47 1375.30,659.77 1341.30,659.77" fill="#0000ff"/><polygon points="1359.38,691.49 1362.18,691.49 1377.78,661.79 1343.78,661.79" fill="#0000ff"/><polygon points="1361.84,693.50 1364.64,693.50 1380.24,663.80 1346.24,663.80" fill="#0000ff"/><polygon points="1364.26,695.51 1367.06,695.51 1382.66,665.81 1348.66,665.81" fill="#0000ff"/><polygon points="1366.65,697.52 1369.45,697.52 1385.05,667.82 1351.05,667.82" fill="#0000ff"/><polygon points="1369.02,699.52 1371.82,699.52 1387.42,669.82 1353.42,669.82" fill="#0000ff"/><polygon points="1371.35,701.51 1374.15,701.51 1389.75,671.81 1355.75,671.81" fill="#0000ff"/><polygon points="1373.66,703.50 1376.46,703.50 1392.06,673.80 1358.06,673.80" fill="#0000ff"/><polygon points="1375.93,705.48 1378.73,705.48 1394.33,675.78 1360.33,675.78" fill="#0000ff"/><polygon points="1378.19,707.46 1380.99,707.46 1396.59,677.76 1362.59,677.76" fill="#0000ff"/><polygon points="1380.41,709.43 1383.21,709.43 1398.81,679.73 1364.81,679.73" fill="#0000ff"/><polygon points="1382.61,711.40 1385.41,711.40 1401.01,681.70 1367.01,681.70" fill="#0000ff"/><polygon points="1384.78,713.36 1387.58,713.36 1403.18,683.66 1369.18,683.66" fill="#0000ff"/><polygon points="1386.93,715.31 1389.73,715.31 1405.33,685.61 1371.33,685.61" fill="#0000ff"/><polygon points="1389.06,717.26 1391.86,717.26 1407.46,687.56 1373.46,687.56" fill="#0000ff"/><polygon points="1391.16,719.21 1393.96,719.21 1409.56,689.51 1375.56,689.51" fill="#0000ff"/><polygon points="1393.24,721.15 1396.04,721.15 1411.64,691.45 1377.64,691.45" fill="#0000ff"/><polygon points="1395.30,723.08 1398.10,723.08 1413.70,693.38 1379.70,693.38" fill="#0000ff"/><polygon points="1397.33,725.01 1400.13,725.01 1415.73,695.31 1381.73,695.31" fill="#0000ff"/><polygon points="1399.34,726.93 1402.14,726.93 1417.74,697.23 1383.74,697.23" fill="#0000ff"/><polygon points="1401.33,728.85 1404.13,728.85 1419.73,699.15 1385.73,699.15" fill="#0000ff"/><polygon points="1403.31,730.76 1406.11,730.76 1421.71,701.06 1387.71,701.06" fill="#0000ff"/><polygon points="1405.26,732.67 1408.06,732.67 1423.66,702.97 1389.66,702.97" fill="#0000ff"/><polygon points="1407.19,734.57 1409.99,734.57 1425.59,704.87 1391.59,704.87" fill="#0000ff"/><polygon points="1409.10,736.46 1411.90,736.46 1427.50,706.76 1393.50,706.76" fill="#0000ff"/></g>
<polyline points="382.61,804.80 402.65,776.55 420.78,752.41 437.33,731.01 452.56,713.34 466.65,697.53 479.78,684.22 492.05,670.90 503.59,661.32 514.46,651.11 524.74,641.66 534.50,634.06 611.63,581.80 666.35,555.29 708.80,539.24 743.48,528.41 772.80,521.32 798.20,515.72 820.61,511.61 840.65,508.25 858.78,506.26 875.33,504.02 890.56,502.78 904.65,502.03 917.78,501.16 930.05,500.16 941.59,499.52 952.46,499.13 962.74,498.89 972.50,498.72 990.63,498.57 1007.18,498.67 1022.41,499.07 1036.50,499.63 1049.63,500.31 1061.90,501.09 1073.44,501.95 1084.31,502.89 1094.59,503.89 1104.35,504.94 1113.63,506.05 1122.48,507.19 1130.94,508.37 1139.03,509.59 1146.80,510.84 1154.26,512.11 1161.44,513.40 1168.36,514.71 1175.03,516.04 1181.48,517.39 1187.72,518.75 1193.76,520.12 1199.61,521.50 1205.29,522.90 1210.80,524.30 1216.16,525.70 1221.37,527.11 1226.45,528.53 1231.39,529.95 1236.20,531.37 1240.90,532.80 1245.48,534.23 1249.96,535.66 1254.33,537.09 1258.61,538.52 1262.79,539.96 1266.88,541.39 1270.88,542.82 1274.81,544.25 1278.65,545.68 1282.42,547.11 1286.11,548.53 1289.73,549.96 1293.29,551.38 1296.78,552.80 1300.21,554.21 1303.57,555.63 1306.88,557.04 1310.13,558.45 1313.33,559.86 1316.47,561.26 1319.57,562.66 1322.61,564.06 1325.61,565.45 1328.56,566.84 1331.46,568.22 1334.32,569.61 1337.14,570.99 1339.92,572.36 1342.65,573.73 1345.35,575.10 1348.01,576.47 1350.64,577.83 1353.22,579.18 1355.78,580.54 1358.30,581.88 1360.78,583.23 1363.24,584.57 1365.66,585.91 1368.05,587.24 1370.42,588.57 1372.75,589.90 1375.06,591.22 1377.33,592.54 1379.59,593.85 1381.81,595.16 1384.01,596.47 1386.18,597.77 1388.33,599.07 1390.46,600.36 1392.56,601.65 1394.64,602.94 1396.70,604.22 1398.73,605.50 1400.74,606.78 1402.73,608.05 1404.71,609.32 1406.66,610.58 1408.59,611.84 1410.50,613.10" fill="none" stroke="#00ffff" stroke-width="7" stroke-linejoin="round" stroke-linecap="round"/>
<g><polygon points="381.21,787.80 384.01,787.80 400.81,804.80 384.01,821.80 381.21,821.80 364.41,804.80" fill="#00ffff"/><polygon points="401.25,759.55 404.05,759.55 420.85,776.55 404.05,793.55 401.25,793.55 384.45,776.55" fill="#00ffff"/><polygon points="419.38,735.41 422.18,735.41 438.98,752.41 422.18,769.41 419.38,769.41 402.58,752.41" fill="#00ffff"/><polygon points="435.93,714.01 438.73,714.01 455.53,731.01 438.73,748.01 435.93,748.01 419.13,731.01" fill="#00ffff"/><polygon points="451.16,696.34 453.96,696.34 470.76,713.34 453.96,730.34 451.16,730.34 434.36,713.34" fill="#00ffff"/><polygon points="465.25,680.53 468.05,680.53 484.85,697.53 468.05,714.53 465.25,714.53 448.45,697.53" fill="#00ffff"/><polygon points="478.38,667.22 481.18,667.22 497.98,684.22 481.18,701.22 478.38,701.22 461.58,684.22" fill="#00ffff"/><polygon points="490.65,653.90 493.45,653.90 510.25,670.90 493.45,687.90 490.65,687.90 473.85,670.90" fill="#00ffff"/><polygon points="502.19,644.32 504.99,644.32 521.79,661.32 504.99,678.32 502.19,678.32 485.39,661.32" fill="#00ffff"/><polygon points="513.06,634.11 515.86,634.11 532.66,651.11 515.86,668.11 513.06,668.11 496.26,651.11" fill="#00ffff"/><polygon points="523.34,624.66 526.14,624.66 542.94,641.66 526.14,658.66 523.34,658.66 506.54,641.66" fill="#00ffff"/><polygon points="533.10,617.06 535.90,617.06 552.70,634.06 535.90,651.06 533.10,651.06 516.30,634.06" fill="#00ffff"/><polygon points="610.23,564.80 613.03,564.80 629.83,581.80 613.03,598.80 610.23,598.80 593.43,581.80" fill="#00ffff"/><polygon points="664.95,538.29 667.75,538.29 684.55,555.29 667.75,572.29 664.95,572.29 648.15,555.29" fill="#00ffff"/><polygon points="707.40,522.24 710.20,522.24 727.00,539.24 710.20,556.24 707.40,556.24 690.60,539.24" fill="#00ffff"/><polygon points="742.08,511.41 744.88,511.41 761.68,528.41 744.88,545.41 742.08,545.41 725.28,528.41" fill="#00ffff"/><polygon points="771.40,504.32 774.20,504.32 791.00,521.32 774.20,538.32 771.40,538.32 754.60,521.32" fill="#00ffff"/><polygon points="796.80,498.72 799.60,498.72 816.40,515.72 799.60,532.72 796.80,532.72 780.00,515.72" fill="#00ffff"/><polygon points="819.21,494.61 822.01,494.61 838.81,511.61 822.01,528.61 819.21,528.61 802.41,511.61" fill="#00ffff"/><polygon points="839.25,491.25 842.05,491.25 858.85,508.25 842.05,525.25 839.25,525.25 822.45,508.25" fill="#00ffff"/><polygon points="857.38,489.26 860.18,489.26 876.98,506.26 860.18,523.26 857.38,523.26 840.58,506.26" fill="#00ffff"/><polygon points="873.93,487.02 876.73,487.02 893.53,504.02 876.73,521.02 873.93,521.02 857.13,504.02" fill="#00ffff"/><polygon points="889.16,485.78 891.96,485.78 908.76,502.78 891.96,519.78 889.16,519.78 872.36,502.78" fill="#00ffff"/><polygon points="903.25,485.03 906.05,485.03 922.85,502.03 906.05,519.03 903.25,519.03 886.45,502.03" fill="#00ffff"/><polygon points="916.38,484.16 919.18,484.16 935.98,501.16 919.18,518.16 916.38,518.16 899.58,501.16" fill="#00ffff"/><polygon points="928.65,483.16 931.45,483.16 948.25,500.16 931.45,517.16 928.65,517.16 911.85,500.16" fill="#00ffff"/><polygon points="940.19,482.52 942.99,482.52 959.79,499.52 942.99,516.52 940.19,516.52 923.39,499.52" fill="#00ffff"/><polygon points="951.06,482.13 953.86,482.13 970.66,499.13 953.86,516.13 951.06,516.13 934.26,499.13" fill="#00ffff"/><polygon points="961.34,481.89 964.14,481.89 980.94,498.89 964.14,515.89 961.34,515.89 944.54,498.89" fill="#00ffff"/><polygon points="971.10,481.72 973.90,481.72 990.70,498.72 973.90,515.72 971.10,515.72 954.30,498.72" fill="#00ffff"/><polygon points="989.23,481.57 992.03,481.57 1008.83,498.57 992.03,515.57 989.23,515.57 972.43,498.57" fill="#00ffff"/><polygon points="1005.78,481.67 1008.58,481.67 1025.38,498.67 1008.58,515.67 1005.78,515.67 988.98,498.67" fill="#00ffff"/><polygon points="1021.01,482.07 1023.81,482.07 1040.61,499.07 1023.81,516.07 1021.01,516.07 1004.21,499.07" fill="#00ffff"/><polygon points="1035.10,482.63 1037.90,482.63 1054.70,499.63 1037.90,516.63 1035.10,516.63 1018.30,499.63" fill="#00ffff"/><polygon points="1048.23,483.31 1051.03,483.31 1067.83,500.31 1051.03,517.31 1048.23,517.31 1031.43,500.31" fill="#00ffff"/><polygon points="1060.50,484.09 1063.30,484.09 1080.10,501.09 1063.30,518.09 1060.50,518.09 1043.70,501.09" fill="#00ffff"/><polygon points="1072.04,484.95 1074.84,484.95 1091.64,501.95 1074.84,518.95 1072.04,518.95 1055.24,501.95" fill="#00ffff"/><polygon points="1082.91,485.89 1085.71,485.89 1102.51,502.89 1085.71,519.89 1082.91,519.89 1066.11,502.89" fill="#00ffff"/><polygon points="1093.19,486.89 1095.99,486.89 1112.79,503.89 1095.99,520.89 1093.19,520.89 1076.39,503.89" fill="#00ffff"/><polygon points="1102.95,487.94 1105.75,487.94 1122.55,504.94 1105.75,521.94 1102.95,521.94 1086.15,504.94" fill="#00ffff"/><polygon points="1112.23,489.05 1115.03,489.05 1131.83,506.05 1115.03,523.05 1112.23,523.05 1095.43,506.05" fill="#00ffff"/><polygon points="1121.08,490.19 1123.88,490.19 1140.68,507.19 1123.88,524.19 1121.08,524.19 1104.28,507.19" fill="#00ffff"/><polygon points="1129.54,491.37 1132.34,491.37 1149.14,508.37 1132.34,525.37 1129.54,525.37 1112.74,508.37" fill="#00ffff"/><polygon points="1137.63,492.59 1140.43,492.59 1157.23,509.59 1140.43,526.59 1137.63,526.59 1120.83,509.59" fill="#00ffff"/><polygon points="1145.40,493.84 1148.20,493.84 1165.00,510.84 1148.20,527.84 1145.40,527.84 1128.60,510.84" fill="#00ffff"/><polygon points="1152.86,495.11 1155.66,495.11 1172.46,512.11 1155.66,529.11 1152.86,529.11 1136.06,512.11" fill="#00ffff"/><polygon points="1160.04,496.40 1162.84,496.40 1179.64,513.40 1162.84,530.40 1160.04,530.40 1143.24,513.40" fill="#00ffff"/><polygon points="1166.96,497.71 1169.76,497.71 1186.56,514.71 1169.76,531.71 1166.96,531.71 1150.16,514.71" fill="#00ffff"/><polygon points="1173.63,499.04 1176.43,499.04 1193.23,516.04 1176.43,533.04 1173.63,533.04 1156.83,516.04" fill="#00ffff"/><polygon points="1180.08,500.39 1182.88,500.39 1199.68,517.39 1182.88,534.39 1180.08,534.39 1163.28,517.39" fill="#00ffff"/><polygon points="1186.32,501.75 1189.12,501.75 1205.92,518.75 1189.12,535.75 1186.32,535.75 1169.52,518.75" fill="#00ffff"/><polygon points="1192.36,503.12 1195.16,503.12 1211.96,520.12 1195.16,537.12 1192.36,537.12 1175.56,520.12" fill="#00ffff"/><polygon points="1198.21,504.50 1201.01,504.50 1217.81,521.50 1201.01,538.50 1198.21,538.50 1181.41,521.50" fill="#00ffff"/><polygon points="1203.89,505.90 1206.69,505.90 1223.49,522.90 1206.69,539.90 1203.89,539.90 1187.09,522.90" fill="#00ffff"/><polygon points="1209.40,507.30 1212.20,507.30 1229.00,524.30 1212.20,541.30 1209.40,541.30 1192.60,524.30" fill="#00ffff"/><polygon points="1214.76,508.70 1217.56,508.70 1234.36,525.70 1217.56,542.70 1214.76,542.70 1197.96,525.70" fill="#00ffff"/><polygon points="1219.97,510.11 1222.77,510.11 1239.57,527.11 1222.77,544.11 1219.97,544.11 1203.17,527.11" fill="#00ffff"/><polygon points="1225.05,511.53 1227.85,511.53 1244.65,528.53 1227.85,545.53 1225.05,545.53 1208.25,528.53" fill="#00ffff"/><polygon points="1229.99,512.95 1232.79,512.95 1249.59,529.95 1232.79,546.95 1229.99,546.95 1213.19,529.95" fill="#00ffff"/><polygon points="1234.80,514.37 1237.60,514.37 1254.40,531.37 1237.60,548.37 1234.80,548.37 1218.00,531.37" fill="#00ffff"/><polygon points="1239.50,515.80 1242.30,515.80 1259.10,532.80 1242.30,549.80 1239.50,549.80 1222.70,532.80" fill="#00ffff"/><polygon points="1244.08,517.23 1246.88,517.23 1263.68,534.23 1246.88,551.23 1244.08,551.23 1227.28,534.23" fill="#00ffff"/><polygon points="1248.56,518.66 1251.36,518.66 1268.16,535.66 1251.36,552.66 1248.56,552.66 1231.76,535.66" fill="#00ffff"/><polygon points="1252.93,520.09 1255.73,520.09 1272.53,537.09 1255.73,554.09 1252.93,554.09 1236.13,537.09" fill="#00ffff"/><polygon points="1257.21,521.52 1260.01,521.52 1276.81,538.52 1260.01,555.52 1257.21,555.52 1240.41,538.52" fill="#00ffff"/><polygon points="1261.39,522.96 1264.19,522.96 1280.99,539.96 1264.19,556.96 1261.39,556.96 1244.59,539.96" fill="#00ffff"/><polygon points="1265.48,524.39 1268.28,524.39 1285.08,541.39 1268.28,558.39 1265.48,558.39 1248.68,541.39" fill="#00ffff"/><polygon points="1269.48,525.82 1272.28,525.82 1289.08,542.82 1272.28,559.82 1269.48,559.82 1252.68,542.82" fill="#00ffff"/><polygon points="1273.41,527.25 1276.21,527.25 1293.01,544.25 1276.21,561.25 1273.41,561.25 1256.61,544.25" fill="#00ffff"/><polygon points="1277.25,528.68 1280.05,528.68 1296.85,545.68 1280.05,562.68 1277.25,562.68 1260.45,545.68" fill="#00ffff"/><polygon points="1281.02,530.11 1283.82,530.11 1300.62,547.11 1283.82,564.11 1281.02,564.11 1264.22,547.11" fill="#00ffff"/><polygon points="1284.71,531.53 1287.51,531.53 1304.31,548.53 1287.51,565.53 1284.71,565.53 1267.91,548.53" fill="#00ffff"/><polygon points="1288.33,532.96 1291.13,532.96 1307.93,549.96 1291.13,566.96 1288.33,566.96 1271.53,549.96" fill="#00ffff"/><polygon points="1291.89,534.38 1294.69,534.38 1311.49,551.38 1294.69,568.38 1291.89,568.38 1275.09,551.38" fill="#00ffff"/><polygon points="1295.38,535.80 1298.18,535.80 1314.98,552.80 1298.18,569.80 1295.38,569.80 1278.58,552.80" fill="#00ffff"/><polygon points="1298.81,537.21 1301.61,537.21 1318.41,554.21 1301.61,571.21 1298.81,571.21 1282.01,554.21" fill="#00ffff"/><polygon points="1302.17,538.63 1304.97,538.63 1321.77,555.63 1304.97,572.63 1302.17,572.63 1285.37,555.63" fill="#00ffff"/><polygon points="1305.48,540.04 1308.28,540.04 1325.08,557.04 1308.28,574.04 1305.48,574.04 1288.68,557.04" fill="#00ffff"/><polygon points="1308.73,541.45 1311.53,541.45 1328.33,558.45 1311.53,575.45 1308.73,575.45 1291.93,558.45" fill="#00ffff"/><polygon points="1311.93,542.86 1314.73,542.86 1331.53,559.86 1314.73,576.86 1311.93,576.86 1295.13,559.86" fill="#00ffff"/><polygon points="1315.07,544.26 1317.87,544.26 1334.67,561.26 1317.87,578.26 1315.07,578.26 1298.27,561.26" fill="#00ffff"/><polygon points="1318.17,545.66 1320.97,545.66 1337.77,562.66 1320.97,579.66 1318.17,579.66 1301.37,562.66" fill="#00ffff"/><polygon points="1321.21,547.06 1324.01,547.06 1340.81,564.06 1324.01,581.06 1321.21,581.06 1304.41,564.06" fill="#00ffff"/><polygon points="1324.21,548.45 1327.01,548.45 1343.81,565.45 1327.01,582.45 1324.21,582.45 1307.41,565.45" fill="#00ffff"/><polygon points="1327.16,549.84 1329.96,549.84 1346.76,566.84 1329.96,583.84 1327.16,583.84 1310.36,566.84" fill="#00ffff"/><polygon points="1330.06,551.22 1332.86,551.22 1349.66,568.22 1332.86,585.22 1330.06,585.22 1313.26,568.22" fill="#00ffff"/><polygon points="1332.92,552.61 1335.72,552.61 1352.52,569.61 1335.72,586.61 1332.92,586.61 1316.12,569.61" fill="#00ffff"/><polygon points="1335.74,553.99 1338.54,553.99 1355.34,570.99 1338.54,587.99 1335.74,587.99 1318.94,570.99" fill="#00ffff"/><polygon points="1338.52,555.36 1341.32,555.36 1358.12,572.36 1341.32,589.36 1338.52,589.36 1321.72,572.36" fill="#00ffff"/><polygon points="1341.25,556.73 1344.05,556.73 1360.85,573.73 1344.05,590.73 1341.25,590.73 1324.45,573.73" fill="#00ffff"/><polygon points="1343.95,558.10 1346.75,558.10 1363.55,575.10 1346.75,592.10 1343.95,592.10 1327.15,575.10" fill="#00ffff"/><polygon points="1346.61,559.47 1349.41,559.47 1366.21,576.47 1349.41,593.47 1346.61,593.47 1329.81,576.47" fill="#00ffff"/><polygon points="1349.24,560.83 1352.04,560.83 1368.84,577.83 1352.04,594.83 1349.24,594.83 1332.44,577.83" fill="#00ffff"/><polygon points="1351.82,562.18 1354.62,562.18 1371.42,579.18 1354.62,596.18 1351.82,596.18 1335.02,579.18" fill="#00ffff"/><polygon points="1354.38,563.54 1357.18,563.54 1373.98,580.54 1357.18,597.54 1354.38,597.54 1337.58,580.54" fill="#00ffff"/><polygon points="1356.90,564.88 1359.70,564.88 1376.50,581.88 1359.70,598.88 1356.90,598.88 1340.10,581.88" fill="#00ffff"/><polygon points="1359.38,566.23 1362.18,566.23 1378.98,583.23 1362.18,600.23 1359.38,600.23 1342.58,583.23" fill="#00ffff"/><polygon points="1361.84,567.57 1364.64,567.57 1381.44,584.57 1364.64,601.57 1361.84,601.57 1345.04,584.57" fill="#00ffff"/><polygon points="1364.26,568.91 1367.06,568.91 1383.86,585.91 1367.06,602.91 1364.26,602.91 1347.46,585.91" fill="#00ffff"/><polygon points="1366.65,570.24 1369.45,570.24 1386.25,587.24 1369.45,604.24 1366.65,604.24 1349.85,587.24" fill="#00ffff"/><polygon points="1369.02,571.57 1371.82,571.57 1388.62,588.57 1371.82,605.57 1369.02,605.57 1352.22,588.57" fill="#00ffff"/><polygon points="1371.35,572.90 1374.15,572.90 1390.95,589.90 1374.15,606.90 1371.35,606.90 1354.55,589.90" fill="#00ffff"/><polygon points="1373.66,574.22 1376.46,574.22 1393.26,591.22 1376.46,608.22 1373.66,608.22 1356.86,591.22" fill="#00ffff"/><polygon points="1375.93,575.54 1378.73,575.54 1395.53,592.54 1378.73,609.54 1375.93,609.54 1359.13,592.54" fill="#00ffff"/><polygon points="1378.19,576.85 1380.99,576.85 1397.79,593.85 1380.99,610.85 1378.19,610.85 1361.39,593.85" fill="#00ffff"/><polygon points="1380.41,578.16 1383.21,578.16 1400.01,595.16 1383.21,612.16 1380.41,612.16 1363.61,595.16" fill="#00ffff"/><polygon points="1382.61,579.47 1385.41,579.47 1402.21,596.47 1385.41,613.47 1382.61,613.47 1365.81,596.47" fill="#00ffff"/><polygon points="1384.78,580.77 1387.58,580.77 1404.38,597.77 1387.58,614.77 1384.78,614.77 1367.98,597.77" fill="#00ffff"/><polygon points="1386.93,582.07 1389.73,582.07 1406.53,599.07 1389.73,616.07 1386.93,616.07 1370.13,599.07" fill="#00ffff"/><polygon points="1389.06,583.36 1391.86,583.36 1408.66,600.36 1391.86,617.36 1389.06,617.36 1372.26,600.36" fill="#00ffff"/><polygon points="1391.16,584.65 1393.96,584.65 1410.76,601.65 1393.96,618.65 1391.16,618.65 1374.36,601.65" fill="#00ffff"/><polygon points="1393.24,585.94 1396.04,585.94 1412.84,602.94 1396.04,619.94 1393.24,619.94 1376.44,602.94" fill="#00ffff"/><polygon points="1395.30,587.22 1398.10,587.22 1414.90,604.22 1398.10,621.22 1395.30,621.22 1378.50,604.22" fill="#00ffff"/><polygon points="1397.33,588.50 1400.13,588.50 1416.93,605.50 1400.13,622.50 1397.33,622.50 1380.53,605.50" fill="#00ffff"/><polygon points="1399.34,589.78 1402.14,589.78 1418.94,606.78 1402.14,623.78 1399.34,623.78 1382.54,606.78" fill="#00ffff"/><polygon points="1401.33,591.05 1404.13,591.05 1420.93,608.05 1404.13,625.05 1401.33,625.05 1384.53,608.05" fill="#00ffff"/><polygon points="1403.31,592.32 1406.11,592.32 1422.91,609.32 1406.11,626.32 1403.31,626.32 1386.51,609.32" fill="#00ffff"/><polygon points="1405.26,593.58 1408.06,593.58 1424.86,610.58 1408.06,627.58 1405.26,627.58 1388.46,610.58" fill="#00ffff"/><polygon points="1407.19,594.84 1409.99,594.84 1426.79,611.84 1409.99,628.84 1407.19,628.84 1390.39,611.84" fill="#00ffff"/><polygon points="1409.10,596.10 1411.90,596.10 1428.70,613.10 1411.90,630.10 1409.10,630.10 1392.30,613.10" fill="#00ffff"/></g>
<g id="axes"><rect x="228.5" y="60.5" width="1392.0" height="1120.0" fill="none" stroke="#000" stroke-width="5"/><line x1="206" y1="60.50" x2="228.5" y2="60.50" stroke="#000" stroke-width="5"/><line x1="206" y1="184.94" x2="228.5" y2="184.94" stroke="#000" stroke-width="5"/><line x1="206" y1="309.39" x2="228.5" y2="309.39" stroke="#000" stroke-width="5"/><line x1="206" y1="433.83" x2="228.5" y2="433.83" stroke="#000" stroke-width="5"/><line x1="206" y1="558.28" x2="228.5" y2="558.28" stroke="#000" stroke-width="5"/><line x1="206" y1="682.72" x2="228.5" y2="682.72" stroke="#000" stroke-width="5"/><line x1="206" y1="807.17" x2="228.5" y2="807.17" stroke="#000" stroke-width="5"/><line x1="206" y1="931.61" x2="228.5" y2="931.61" stroke="#000" stroke-width="5"/><line x1="206" y1="1056.06" x2="228.5" y2="1056.06" stroke="#000" stroke-width="5"/><line x1="206" y1="1180.50" x2="228.5" y2="1180.50" stroke="#000" stroke-width="5"/><line x1="217" y1="122.72" x2="228.5" y2="122.72" stroke="#000" stroke-width="5"/><line x1="217" y1="247.17" x2="228.5" y2="247.17" stroke="#000" stroke-width="5"/><line x1="217" y1="371.61" x2="228.5" y2="371.61" stroke="#000" stroke-width="5"/><line x1="217" y1="496.06" x2="228.5" y2="496.06" stroke="#000" stroke-width="5"/><line x1="217" y1="620.50" x2="228.5" y2="620.50" stroke="#000" stroke-width="5"/><line x1="217" y1="744.94" x2="228.5" y2="744.94" stroke="#000" stroke-width="5"/><line x1="217" y1="869.39" x2="228.5" y2="869.39" stroke="#000" stroke-width="5"/><line x1="217" y1="993.83" x2="228.5" y2="993.83" stroke="#000" stroke-width="5"/><line x1="217" y1="1118.28" x2="228.5" y2="1118.28" stroke="#000" stroke-width="5"/><line x1="534.50" y1="1180.5" x2="534.50" y2="1203" stroke="#000" stroke-width="5"/><line x1="972.50" y1="1180.5" x2="972.50" y2="1203" stroke="#000" stroke-width="5"/><line x1="1410.50" y1="1180.5" x2="1410.50" y2="1203" stroke="#000" stroke-width="5"/><line x1="228.50" y1="1180.5" x2="228.50" y2="1192" stroke="#000" stroke-width="5"/><line x1="305.48" y1="1180.5" x2="305.48" y2="1192" stroke="#000" stroke-width="5"/><line x1="360.20" y1="1180.5" x2="360.20" y2="1192" stroke="#000" stroke-width="5"/><line x1="402.65" y1="1180.5" x2="402.65" y2="1192" stroke="#000" stroke-width="5"/><line x1="437.33" y1="1180.5" x2="437.33" y2="1192" stroke="#000" stroke-width="5"/><line x1="466.65" y1="1180.5" x2="466.65" y2="1192" stroke="#000" stroke-width="5"/><line x1="492.05" y1="1180.5" x2="492.05" y2="1192" stroke="#000" stroke-width="5"/><line x1="514.46" y1="1180.5" x2="514.46" y2="1192" stroke="#000" stroke-width="5"/><line x1="666.35" y1="1180.5" x2="666.35" y2="1192" stroke="#000" stroke-width="5"/><line x1="743.48" y1="1180.5" x2="743.48" y2="1192" stroke="#000" stroke-width="5"/><line x1="798.20" y1="1180.5" x2="798.20" y2="1192" stroke="#000" stroke-width="5"/><line x1="840.65" y1="1180.5" x2="840.65" y2="1192" stroke="#000" stroke-width="5"/><line x1="875.33" y1="1180.5" x2="875.33" y2="1192" stroke="#000" stroke-width="5"/><line x1="904.65" y1="1180.5" x2="904.65" y2="1192" stroke="#000" stroke-width="5"/><line x1="930.05" y1="1180.5" x2="930.05" y2="1192" stroke="#000" stroke-width="5"/><line x1="952.46" y1="1180.5" x2="952.46" y2="1192" stroke="#000" stroke-width="5"/><line x1="1104.35" y1="1180.5" x2="1104.35" y2="1192" stroke="#000" stroke-width="5"/><line x1="1181.48" y1="1180.5" x2="1181.48" y2="1192" stroke="#000" stroke-width="5"/><line x1="1236.20" y1="1180.5" x2="1236.20" y2="1192" stroke="#000" stroke-width="5"/><line x1="1278.65" y1="1180.5" x2="1278.65" y2="1192" stroke="#000" stroke-width="5"/><line x1="1313.33" y1="1180.5" x2="1313.33" y2="1192" stroke="#000" stroke-width="5"/><line x1="1342.65" y1="1180.5" x2="1342.65" y2="1192" stroke="#000" stroke-width="5"/><line x1="1368.05" y1="1180.5" x2="1368.05" y2="1192" stroke="#000" stroke-width="5"/><line x1="1390.46" y1="1180.5" x2="1390.46" y2="1192" stroke="#000" stroke-width="5"/><line x1="1542.35" y1="1180.5" x2="1542.35" y2="1192" stroke="#000" stroke-width="5"/><line x1="1620.50" y1="1180.5" x2="1620.50" y2="1192" stroke="#000" stroke-width="5"/></g>
<text x="192.2" y="77.80" font-size="58.5" text-anchor="end">120</text>
<text x="68.05" y="77.80" font-size="58.5" textLength="38" lengthAdjust="spacingAndGlyphs">−</text>
<text x="192.2" y="202.24" font-size="58.5" text-anchor="end">110</text>
<text x="68.05" y="202.24" font-size="58.5" textLength="38" lengthAdjust="spacingAndGlyphs">−</text>
<text x="192.2" y="326.69" font-size="58.5" text-anchor="end">100</text>
<text x="68.05" y="326.69" font-size="58.5" textLength="38" lengthAdjust="spacingAndGlyphs">−</text>
<text x="192.2" y="451.13" font-size="58.5" text-anchor="end">90</text>
<text x="97.30" y="451.13" font-size="58.5" textLength="38" lengthAdjust="spacingAndGlyphs">−</text>
<text x="192.2" y="575.58" font-size="58.5" text-anchor="end">80</text>
<text x="97.30" y="575.58" font-size="58.5" textLength="38" lengthAdjust="spacingAndGlyphs">−</text>
<text x="192.2" y="700.02" font-size="58.5" text-anchor="end">70</text>
<text x="97.30" y="700.02" font-size="58.5" textLength="38" lengthAdjust="spacingAndGlyphs">−</text>
<text x="192.2" y="824.47" font-size="58.5" text-anchor="end">60</text>
<text x="97.30" y="824.47" font-size="58.5" textLength="38" lengthAdjust="spacingAndGlyphs">−</text>
<text x="192.2" y="948.91" font-size="58.5" text-anchor="end">50</text>
<text x="97.30" y="948.91" font-size="58.5" textLength="38" lengthAdjust="spacingAndGlyphs">−</text>
<text x="192.2" y="1073.36" font-size="58.5" text-anchor="end">40</text>
<text x="97.30" y="1073.36" font-size="58.5" textLength="38" lengthAdjust="spacingAndGlyphs">−</text>
<text x="192.2" y="1197.80" font-size="58.5" text-anchor="end">30</text>
<text x="97.30" y="1197.80" font-size="58.5" textLength="38" lengthAdjust="spacingAndGlyphs">−</text>
<text x="535.50" y="1262.7" font-size="58.5" text-anchor="middle">1,000</text>
<text x="973.50" y="1262.7" font-size="58.5" text-anchor="middle">10,000</text>
<text x="1411.50" y="1262.7" font-size="58.5" text-anchor="middle">100,000</text>
<text x="925.8" y="1352.6" font-size="64" text-anchor="middle">Frequency (Hz)</text>
<text transform="translate(76.9 601.6) rotate(-90)" x="0" y="0" font-size="64.5" text-anchor="middle">theta/deg</text>
</svg></body></html>
